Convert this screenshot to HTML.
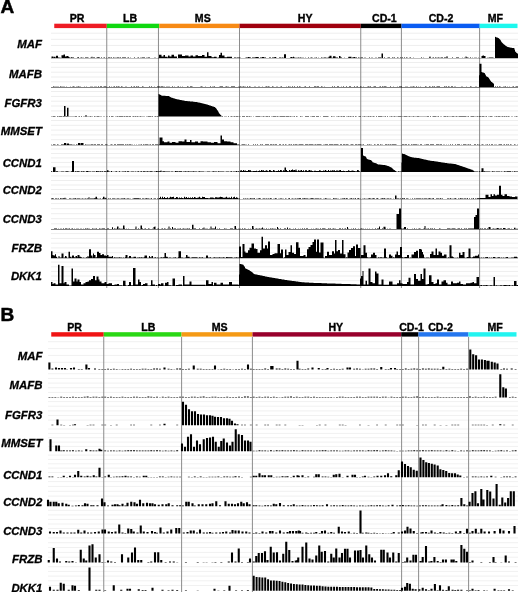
<!DOCTYPE html>
<html><head><meta charset="utf-8"><title>Figure</title>
<style>
html,body{margin:0;padding:0;background:#fff;}
body{width:520px;height:592px;overflow:hidden;}
svg{display:block;}
.wrap{width:520px;height:592px;}
.pl{font-family:"Liberation Sans",Arial,sans-serif;font-weight:bold;font-size:19px;stroke:#000;stroke-width:0.5px;}
.hd{font-family:"Liberation Sans",Arial,sans-serif;font-weight:bold;font-size:10.6px;stroke:#000;stroke-width:0.35px;}
.rl{font-family:"Liberation Sans",Arial,sans-serif;font-weight:bold;font-style:italic;font-size:11.4px;stroke:#000;stroke-width:0.3px;}
</style></head><body><div class="wrap">
<svg width="520" height="592" viewBox="0 0 520 592">
<text x="0.5" y="13.2" class="pl">A</text>
<text x="77.0" y="22.1" class="hd" text-anchor="middle">PR</text>
<text x="130.0" y="22.1" class="hd" text-anchor="middle">LB</text>
<text x="202.8" y="22.1" class="hd" text-anchor="middle">MS</text>
<text x="305.1" y="22.1" class="hd" text-anchor="middle">HY</text>
<text x="384.4" y="22.1" class="hd" text-anchor="middle">CD-1</text>
<text x="441.1" y="22.1" class="hd" text-anchor="middle">CD-2</text>
<text x="495.4" y="22.1" class="hd" text-anchor="middle">MF</text>
<rect x="51" y="32.7" width="467" height="1" fill="#eeeeee"/>
<rect x="51" y="38.8" width="467" height="1" fill="#eeeeee"/>
<rect x="51" y="44.9" width="467" height="1" fill="#eeeeee"/>
<rect x="51" y="51.0" width="467" height="1" fill="#eeeeee"/>
<rect x="51" y="62.0" width="467" height="1" fill="#eeeeee"/>
<rect x="51" y="66.8" width="467" height="1" fill="#eeeeee"/>
<rect x="51" y="71.7" width="467" height="1" fill="#eeeeee"/>
<rect x="51" y="76.5" width="467" height="1" fill="#eeeeee"/>
<rect x="51" y="81.3" width="467" height="1" fill="#eeeeee"/>
<rect x="51" y="91.0" width="467" height="1" fill="#eeeeee"/>
<rect x="51" y="95.9" width="467" height="1" fill="#eeeeee"/>
<rect x="51" y="100.7" width="467" height="1" fill="#eeeeee"/>
<rect x="51" y="105.5" width="467" height="1" fill="#eeeeee"/>
<rect x="51" y="110.4" width="467" height="1" fill="#eeeeee"/>
<rect x="51" y="120.0" width="467" height="1" fill="#eeeeee"/>
<rect x="51" y="124.8" width="467" height="1" fill="#eeeeee"/>
<rect x="51" y="129.6" width="467" height="1" fill="#eeeeee"/>
<rect x="51" y="134.4" width="467" height="1" fill="#eeeeee"/>
<rect x="51" y="139.2" width="467" height="1" fill="#eeeeee"/>
<rect x="51" y="148.5" width="467" height="1" fill="#eeeeee"/>
<rect x="51" y="153.0" width="467" height="1" fill="#eeeeee"/>
<rect x="51" y="157.4" width="467" height="1" fill="#eeeeee"/>
<rect x="51" y="161.9" width="467" height="1" fill="#eeeeee"/>
<rect x="51" y="166.4" width="467" height="1" fill="#eeeeee"/>
<rect x="51" y="175.4" width="467" height="1" fill="#eeeeee"/>
<rect x="51" y="180.0" width="467" height="1" fill="#eeeeee"/>
<rect x="51" y="184.5" width="467" height="1" fill="#eeeeee"/>
<rect x="51" y="189.0" width="467" height="1" fill="#eeeeee"/>
<rect x="51" y="193.6" width="467" height="1" fill="#eeeeee"/>
<rect x="51" y="203.1" width="467" height="1" fill="#eeeeee"/>
<rect x="51" y="208.2" width="467" height="1" fill="#eeeeee"/>
<rect x="51" y="213.2" width="467" height="1" fill="#eeeeee"/>
<rect x="51" y="218.2" width="467" height="1" fill="#eeeeee"/>
<rect x="51" y="223.3" width="467" height="1" fill="#eeeeee"/>
<rect x="51" y="233.1" width="467" height="1" fill="#eeeeee"/>
<rect x="51" y="237.9" width="467" height="1" fill="#eeeeee"/>
<rect x="51" y="242.7" width="467" height="1" fill="#eeeeee"/>
<rect x="51" y="247.4" width="467" height="1" fill="#eeeeee"/>
<rect x="51" y="252.2" width="467" height="1" fill="#eeeeee"/>
<rect x="51" y="261.6" width="467" height="1" fill="#eeeeee"/>
<rect x="51" y="266.3" width="467" height="1" fill="#eeeeee"/>
<rect x="51" y="270.9" width="467" height="1" fill="#eeeeee"/>
<rect x="51" y="275.5" width="467" height="1" fill="#eeeeee"/>
<rect x="51" y="280.2" width="467" height="1" fill="#eeeeee"/>
<rect x="106.25" y="28.0" width="1" height="260.0" fill="#8c8c8c"/>
<rect x="157.95" y="28.0" width="1" height="260.0" fill="#8c8c8c"/>
<rect x="239.00" y="28.0" width="1" height="260.0" fill="#8c8c8c"/>
<rect x="360.25" y="28.0" width="1" height="260.0" fill="#8c8c8c"/>
<rect x="400.90" y="28.0" width="1" height="260.0" fill="#8c8c8c"/>
<rect x="479.10" y="28.0" width="1" height="260.0" fill="#8c8c8c"/>
<rect x="54.25" y="23.7" width="52.55" height="4.4" fill="#ee1c24"/>
<rect x="106.80" y="23.7" width="52.50" height="4.4" fill="#10d810"/>
<rect x="159.30" y="23.7" width="80.20" height="4.4" fill="#f78a14"/>
<rect x="239.50" y="23.7" width="121.30" height="4.4" fill="#a0000e"/>
<rect x="360.80" y="23.7" width="40.70" height="4.4" fill="#000000"/>
<rect x="401.50" y="23.7" width="78.20" height="4.4" fill="#0a5cf2"/>
<rect x="479.70" y="23.7" width="37.80" height="4.4" fill="#1cf8ee"/>
<text x="41.9" y="48.2" class="rl" text-anchor="end">MAF</text>
<text x="41.9" y="77.6" class="rl" text-anchor="end">MAFB</text>
<text x="41.9" y="107.0" class="rl" text-anchor="end">FGFR3</text>
<text x="41.9" y="135.1" class="rl" text-anchor="end">MMSET</text>
<text x="41.9" y="167.4" class="rl" text-anchor="end">CCND1</text>
<text x="41.9" y="194.2" class="rl" text-anchor="end">CCND2</text>
<text x="41.9" y="222.5" class="rl" text-anchor="end">CCND3</text>
<text x="41.9" y="251.6" class="rl" text-anchor="end">FRZB</text>
<text x="41.9" y="279.9" class="rl" text-anchor="end">DKK1</text>
<path d="M51,58.3H51V57.9H51.5V56.5H53.5V57.6H54V56.8H55.5V57.7H56V55.8H58V57.7H58.5V57.3H59.5V58.1H60V57.8H61V58.0H61.5V55.2H63.5V54.6H65V56.5H66.5V56.1H68.5V57.1H69.5V57.7H70V57.8H71V57.4H71.5V57.1H72.5V58.1H73V57.5H74V57.9H75V58.0H77V57.9H77.5V57.1H78.5V57.5H79V58.0H80V57.7H81V57.6H82V57.8H83V57.7H84V58.0H85.5V57.1H86.5V57.9H87V57.6H88V57.8H89V57.9H90V57.7H91V57.8H91.5V56.8H92.5V57.9H93V57.5H94V57.6H95V57.9H96V57.7H97.5V57.1H98.5V57.5H99V57.6H100V57.9H101V57.4H102V58.0H103V57.8H104V57.6H105V58.0H106V57.8H107V58.1H108V57.6H110V57.7H111V57.5H112V57.9H113V57.6H114V57.7H116V57.8H117V57.5H118V57.4H119V57.8H120V57.6H121V58.0H122V57.6H124V57.4H125V57.5H126V57.9H127V57.8H128V57.6H129V58.1H130V57.8H131V58.0H134V57.6H135V58.0H136V57.9H137V57.8H138V57.5H139V58.0H140V57.8H141V57.7H142V57.5H145V57.9H146V57.8H148V57.5H149V57.4H150V58.0H152V57.9H154V57.8H155V57.7H156V57.9H157V58.1H158V57.8H159V54.7H161.5V56.4H163.5V55.1H165V56.7H167.5V57.5H168V55.6H169.5V56.4H171.5V54.7H174V56.4H177V57.9H178V54.4H182V56.0H185V55.6H188.5V56.4H190.5V55.6H193V56.4H195.5V55.2H198V56.0H202V55.1H204.5V56.7H207V52.3H208.5V56.0H211.5V57.2H214V56.7H216.5V57.6H217V57.7H218V57.6H219V55.1H220.5V52.8H222V55.6H224.5V57.2H227V56.7H232V57.9H234V57.6H235V57.4H236V57.8H237V57.4H240V57.8H241V57.9H243V58.0H244V57.9H245V57.7H246V57.5H248V57.0H249.5V57.6H250V57.5H251V58.0H252V57.6H253V57.5H254V57.6H255.5V56.9H258.5V57.5H259V57.9H260V57.5H261V57.4H262V57.0H264V57.4H265V57.6H266V58.0H269V57.5H271V58.0H272V57.5H273V57.4H274V57.6H274.5V57.1H276V57.7H277V58.0H278V58.1H279V57.4H280V57.6H281V57.7H282V57.4H283V57.8H284V54.3H286V57.9H290V57.7H290.5V57.0H292.5V57.8H293V56.7H294V57.5H295V57.8H297V57.7H298V57.5H299V57.8H300V57.5H301V57.7H304V58.1H305V57.8H306V58.0H307V58.1H308V57.5H309V58.0H310V57.8H311V57.6H312V57.7H313V57.9H314V57.7H316V57.5H317V58.0H318V57.7H319V57.9H321V57.6H322V57.7H324V57.6H325V57.5H326V57.8H327V57.7H328.5V56.8H329.5V55.8H331.5V57.8H332V57.7H333V56.3H335.5V57.6H336V57.5H337V57.4H338V57.9H339V56.1H340.5V57.4H341V57.5H342V58.0H344V57.8H345V58.0H346V57.9H347V58.0H348V57.6H348.5V56.8H351.5V58.0H352V57.6H353.5V57.1H355V57.5H356V57.4H357V57.9H358V57.4H359V57.8H361V57.4H362V57.5H363V58.0H364V57.8H365V57.7H366V57.9H367V58.0H368V57.9H369V57.6H370V58.1H371V57.7H372V57.8H373V58.1H374V57.9H375V57.7H377V58.0H378V57.4H379V57.5H380V57.4H381V58.0H381.5V53.5H383V58.1H384V57.6H385V57.9H386V58.0H387V57.8H388V57.5H390V57.9H391V58.0H392V57.5H393V57.7H394V57.6H395V58.0H396V58.1H397V57.6H398V57.8H399V58.0H400V57.4H401V57.7H402V57.5H403V58.0H404V57.5H405V58.0H406V57.5H407V57.8H408V57.9H409V57.7H410V57.5H411V57.9H412V58.0H413V57.7H414V57.9H415V58.0H417V58.1H418V58.0H419V57.9H421V57.6H422V57.9H423V57.7H424V58.0H425V57.9H426V58.1H427V57.9H428V58.1H429V57.6H429.5V56.5H430.5V57.7H431V58.0H432V57.8H433V57.4H434V58.0H435V57.5H436V57.8H437V57.7H438V57.5H439V57.8H440V57.7H441V57.6H442V57.4H443V57.9H444V57.5H445V57.6H446V57.7H446.5V56.3H447.5V57.8H448V57.9H449V58.1H450V58.0H452V57.6H453V57.9H454V58.0H456V57.5H458V57.6H459V57.9H462V57.8H463V58.0H464V57.8H465V57.9H465.5V56.5H466.5V57.4H468V57.7H469V57.9H470V57.4H471V57.9H472V57.8H473V58.1H474V57.8H476V57.7H477V58.0H478V57.7H479V58.1H480V57.9H481V58.0H481.5V56.1H482.5V55.4H484V56.1H485.5V57.9H487V57.7H489V57.6H492V57.5H493V57.8H494V57.9H495V36.8H495.5V37.0H496V37.2H496.5V37.4H497V37.5H497.5V37.7H498V37.9H498.5V38.2H499V38.7H499.5V39.3H500V39.8H500.5V40.6H501V41.4H501.5V42.2H502V42.7H502.5V43.3H503V43.8H503.5V44.3H504V44.6H504.5V45.0H505V45.4H505.5V45.8H506V46.1H506.5V46.4H507V46.7H507.5V47.0H508V47.1H508.5V47.2H509V47.3H509.5V47.4H510V47.5H510.5V47.7H511.5V47.8H512V47.9H512.5V48.0H513.5V48.1H514V48.2H514.5V49.8H515V51.6H515.5V52.1H516V52.5H516.5V52.9H517V53.3H517.5V53.8H518V58.3 Z" fill="#000"/>
<path d="M51,87.4H51V86.9H52V87.1H53V86.6H54V86.8H55V86.7H58V86.8H59V87.1H60V86.6H61V86.7H62V86.8H64V86.7H65V87.1H66V86.7H67V87.0H68V87.1H69V87.0H70V86.7H71V87.0H72V86.7H73V86.5H74V86.8H75V86.9H76V86.8H77V86.7H78V86.6H79V86.7H81V87.1H82V87.0H84V86.7H85V86.9H86V86.8H87V87.1H89V87.0H90V86.7H93V86.9H94V86.8H97V87.0H98V86.6H99V87.0H100V86.5H102V87.1H103V86.8H104V86.6H105V86.5H106V86.8H107V87.0H109V86.5H110V87.0H111V86.8H112V87.0H113V86.8H114V86.5H115V87.0H116V86.6H117V86.8H118V86.6H119V86.7H120V87.0H121V86.6H122V86.8H123V87.1H125V86.8H127V86.9H128V87.0H129V86.9H131V86.6H132V87.1H133V86.7H134V86.6H135V87.0H136V86.5H137V86.7H138V86.6H139V86.9H142V86.5H143V86.8H144V86.9H147V87.1H149V86.6H150V86.9H151V86.5H152V87.0H154V86.8H155V87.0H156V86.9H157V86.5H158V86.6H160V86.7H161V86.6H162V86.5H163V86.8H164V86.7H165V87.1H166V86.7H167V86.8H168V86.7H170V86.9H171V87.1H172V86.5H173V87.0H174V86.8H175V86.9H177V86.7H178V86.5H179V87.0H180V86.7H181V86.9H182V86.8H183V86.9H184V87.0H187V86.6H188V86.8H189V87.0H190V86.6H191V86.5H192V86.8H193V87.0H195V87.1H196V86.9H197V87.1H198V87.0H200V86.8H201V86.6H202V86.7H203V86.9H205V86.8H206V86.9H208V87.1H209V86.9H210V86.5H211V87.0H212V86.8H213V86.7H214V86.6H215V87.0H218V86.9H219V86.8H220V86.5H221V86.6H223V87.1H225V86.7H226V86.6H227V86.8H229V87.1H230V86.9H231V86.5H232V86.6H234V86.5H235V87.0H236V87.1H237V87.0H238V86.8H239V86.7H240V86.5H241V86.7H243V86.6H244V86.8H246V87.1H247V86.6H248V87.0H249V86.5H250V86.7H251V86.9H252V87.0H254V86.7H256V87.1H258V86.8H260V86.9H261V87.0H262V86.7H263V87.1H264V86.9H265V86.8H266V86.5H267V86.7H268V86.6H269V86.8H270V87.0H272V86.5H273V86.7H274V86.9H275V87.1H276V86.8H277V86.7H278V86.9H279V87.0H280V86.7H281V86.5H282V87.0H283V87.1H284V86.9H286V86.7H287V87.0H288V86.6H289V86.7H290V86.8H291V87.0H292V86.5H293V86.9H294V86.6H295V87.0H297V86.6H298V86.9H299V86.5H300V86.8H301V87.0H303V86.9H304V86.7H305V86.5H306V87.0H307V86.9H308V87.0H309V86.5H310V87.0H311V87.1H313V86.9H314V86.6H316V86.7H317V86.5H319V86.9H320V87.0H321V86.5H322V86.7H323V87.1H324V86.7H325V86.9H328V87.0H329V87.1H330V86.9H332V86.5H333V87.0H334V86.5H335V87.0H336V86.9H337V86.6H339V86.9H340V87.1H341V86.8H342V86.9H343V86.5H344V87.0H345V86.9H346V86.6H347V87.1H348V86.9H349V86.6H351V87.1H354V86.5H355V87.0H356V86.7H357V86.6H358V86.9H359V87.0H360V86.5H361V86.7H362V87.0H363V86.7H364V86.9H366V87.1H367V86.7H368V86.6H369V86.7H370V86.5H371V87.1H372V87.0H373V86.8H374V86.5H376V86.9H377V87.0H378V86.9H379V86.8H380V86.5H381V87.0H382V86.6H383V86.7H384V86.6H386V86.7H387V86.9H390V86.6H391V87.1H392V87.0H393V86.7H394V87.0H395V87.1H397V86.8H398V86.9H399V86.5H400V86.6H401V86.5H402V87.0H403V87.1H405V86.8H406V86.7H407V86.8H408V87.0H409V86.9H410V86.7H413V86.6H414V86.7H415V87.0H416V86.6H417V86.9H418V86.8H419V86.9H420V86.7H421V87.0H425V86.6H426V86.8H427V86.9H429V86.5H430V86.8H431V87.0H432V86.6H433V86.7H434V86.5H435V87.1H436V86.8H437V86.6H440V87.1H441V86.9H442V87.0H444V86.5H445V86.8H446V86.5H447V86.9H448V86.6H449V86.8H450V87.0H451V86.6H452V86.5H453V87.1H454V86.8H455V86.7H456V87.0H457V86.9H458V87.0H461V86.7H463V87.0H464V87.1H465V86.9H466V86.7H467V87.0H468V86.9H469V87.0H470V86.6H471V86.8H472V87.1H474V86.9H475V86.8H476V86.7H477V87.1H478V87.0H479V75.3H479.5V63.7H481.5V72.1H482V72.2H482.5V72.4H483V72.6H483.5V72.8H484V72.9H484.5V73.2H485V74.2H485.5V75.3H486V76.2H486.5V76.5H487V76.7H487.5V76.9H488V77.2H488.5V77.9H489V78.7H489.5V79.6H490V80.3H490.5V81.0H491V81.7H491.5V82.1H492V82.5H492.5V82.8H493V83.2H493.5V83.7H494V87.1H495V86.6H496V86.9H497V86.6H498V86.9H499V86.6H500V86.8H501V87.0H502V87.1H503V86.8H504V86.7H505V86.6H506V87.1H507V86.7H508V86.9H509V86.8H510V87.0H511V86.9H512V86.8H513V86.5H514V87.1H515V86.8H516V86.6H517V86.5H518V87.4 Z" fill="#000"/>
<path d="M51,116.4H51V116.3H53V116.0H55V116.2H56V116.4H57V116.0H58V116.2H59V116.0H60V116.1H62V116.3H63V116.1H64V105.9H65.5V116.2H66V116.1H67V107.8H68.5V116.3H70V116.2H73V116.3H75V116.1H76V116.0H77V116.4H78V116.2H79V116.1H80V116.4H81V116.1H82V116.4H83V116.2H85V115.4H87V116.2H90V116.1H91V116.2H93V116.4H94V116.1H95V116.2H96V116.3H97V116.1H99V116.2H100V116.3H101V116.2H102V116.4H103V116.3H104V116.2H105V116.4H106V116.2H108V116.4H109V116.1H110V116.4H111V116.1H113V116.2H114V116.4H115V116.2H117V116.0H118V116.3H119V116.0H121V116.1H123V116.3H124V116.0H125V116.2H126V116.0H128V116.3H129V116.1H130V116.0H131V116.4H132V116.3H133V116.1H134V116.3H135V116.0H136V116.3H137V116.1H138V116.3H139V116.2H140V116.0H141V116.3H143V116.2H144V116.3H145V116.4H146V116.3H148V116.0H149V116.1H150V116.0H151V116.3H152V116.1H153V116.4H154V116.2H155V116.1H156V116.3H157V116.0H158V116.2H158.5V93.9H159V94.2H159.5V94.5H160V94.8H160.5V95.1H161V95.4H161.5V95.6H162V95.7H163V95.8H165.5V95.9H167.5V96.0H169V96.3H169.5V96.7H170V97.1H170.5V97.3H171V97.5H171.5V97.7H172V97.8H172.5V98.0H173V98.2H173.5V98.3H174V98.5H174.5V98.6H175V98.8H175.5V98.9H176V99.0H176.5V99.2H177V99.3H177.5V99.4H178V99.5H178.5V99.6H179V99.7H179.5V99.8H180V99.9H180.5V100.0H181V100.1H181.5V100.2H182V100.3H182.5V100.4H183V100.5H183.5V100.6H184V100.7H184.5V100.8H185V100.9H185.5V101.0H186.5V101.1H187.5V101.2H189V101.3H190V101.4H191.5V101.5H192.5V101.6H193V101.7H194V101.8H194.5V101.9H195.5V102.0H196V102.1H197V102.2H197.5V102.3H198V102.4H198.5V102.5H199V102.6H199.5V102.7H200V102.8H200.5V102.9H201V103.1H201.5V103.2H202V103.3H202.5V103.4H203V103.5H203.5V103.7H204V103.8H204.5V103.9H205V104.1H205.5V104.2H206V104.3H206.5V104.5H207V104.6H207.5V104.8H208V104.9H208.5V105.1H209V105.3H209.5V105.5H210V105.6H210.5V105.8H211V106.0H211.5V106.1H212V106.3H212.5V106.5H213V106.6H213.5V106.8H214V107.0H214.5V107.1H215V107.5H215.5V108.0H216V108.5H216.5V109.2H217V109.9H217.5V110.7H218V111.5H218.5V112.4H219V113.2H219.5V113.9H220V114.4H220.5V114.9H221V115.4H221.5V116.3H222V116.0H223V116.4H224V116.2H226V116.3H227V116.4H228V116.1H229V116.4H230V116.2H231V116.0H232V116.3H234V116.1H235V116.2H236V116.1H238V116.3H241V116.4H242V116.0H243V116.1H245V116.4H246V116.1H248V116.2H249V116.1H250V116.2H251V116.3H252V116.4H253V116.3H254V116.4H255V116.3H256V116.1H260V116.3H261V116.2H263V116.1H264V116.2H265V116.3H266V116.1H267V116.0H268V116.3H269V116.0H270V116.4H271V116.3H273V116.1H274V116.0H275V116.1H276V116.3H277V116.0H278V116.3H280V116.0H281V116.1H284V116.0H285V116.2H286V116.1H288V116.0H289V116.2H290V116.1H291V116.2H292V116.3H294V116.1H295V116.4H296V116.0H297V116.3H298V116.4H300V116.0H301V116.3H303V116.4H305V116.1H309V116.4H310V116.2H311V116.3H312V116.1H314V116.0H315V116.4H316V116.0H319V116.4H320V116.3H321V116.4H323V116.1H328V116.3H329V116.4H331V116.1H332V116.3H334V116.2H335V116.4H336V116.3H338V116.1H339V116.2H340V116.3H341V116.0H342V116.2H343V116.0H344V116.1H345V116.4H346V116.2H348V116.1H349V116.3H350V116.1H351V116.2H352V116.3H353V116.0H354V116.4H355V116.1H356V116.3H357V116.4H358V116.3H359V116.1H360V116.0H361V116.4H362V116.2H364V116.1H365V116.3H366V116.2H367V116.3H368V116.1H369V116.3H370V116.0H371V116.3H373V116.1H374V116.2H375V116.4H376V116.1H377V116.4H378V116.1H382V116.3H383V116.2H385V116.0H386V116.4H387V116.0H388V116.4H389V116.3H391V116.0H392V116.2H394V116.0H395V116.3H396V116.2H398V116.1H401V116.3H404V116.1H407V116.3H408V116.2H409V116.1H410V116.2H411V116.3H412V116.2H413V116.0H414V116.3H417V116.1H419V116.3H423V116.2H424V116.3H427V116.0H428V116.1H429V116.4H430V116.0H431V116.4H432V116.2H433V116.0H434V116.1H436V116.2H437V116.3H438V116.1H439V116.4H440V116.3H441V116.2H442V116.4H443V116.2H444V116.1H446V116.2H447V116.1H448V116.2H449V116.3H450V116.2H452V116.1H453V116.0H454V116.2H456V116.1H457V116.2H458V116.3H459V116.1H460V116.0H461V116.1H463V116.0H464V116.1H466V116.2H467V116.3H468V116.1H469V116.4H470V116.2H471V116.1H474V116.3H475V116.2H477V116.1H478V116.2H479V116.1H480V116.0H481V116.3H482V116.1H484V116.2H486V116.0H487V116.4H488V116.2H489V116.3H490V116.1H491V116.0H492V116.2H493V116.4H494V116.2H496V116.1H497V116.2H498V116.1H500V116.2H502V116.0H503V116.3H504V116.1H505V116.2H506V116.1H507V116.3H508V116.0H509V116.3H510V116.4H511V116.3H512V116.2H513V116.4H514V116.2H516V116.1H517V116.3H518V116.4 Z" fill="#000"/>
<path d="M51,145.2H51V144.8H52V144.9H53V144.5H54V144.4H55V144.7H56V144.9H57V144.5H58V144.7H59V144.9H61V144.5H63V144.6H64V143.1H66V144.9H66.5V143.4H69V144.6H70V144.5H72V144.7H73V144.8H74V144.7H75V144.9H76V144.5H77V144.8H78V143.1H80.5V144.8H81V143.1H83.5V144.9H84V145.0H85V144.5H86V144.8H89V144.7H91V144.6H93V144.8H94V144.4H95V144.5H96V145.0H97V144.5H98V144.4H99V144.5H100V144.9H101V144.5H102V144.6H103V145.0H105V144.4H106V144.6H107V144.8H108V144.9H110V144.8H111V144.5H112V144.8H113V144.9H114V144.4H115V144.5H116V144.9H117V144.4H118V144.6H119V144.5H120V144.6H121V144.4H122V144.5H124V144.9H125V144.6H126V144.7H127V144.5H128V144.7H129V144.4H130V144.6H131V144.8H133V144.9H134V144.7H135V145.0H136V144.7H137V144.9H138V144.7H141V144.5H142V145.0H143V144.5H144V144.7H145V144.6H147V144.5H148V144.8H149V144.7H150V144.4H151V144.9H152V144.6H154V145.0H155V144.6H157V144.4H158V144.8H159V144.4H159.5V137.4H162.5V141.2H164V142.3H167.5V141.6H169.5V142.8H172V142.0H175.5V142.8H178.5V141.2H182V141.6H184.5V139.5H186.5V142.0H190V140.0H191.5V142.3H195V141.6H198V142.8H200.5V141.2H203V141.6H207.5V142.3H211V142.8H214V142.0H217.5V143.3H220.5V135.5H222V139.5H224V141.2H227V141.6H230.5V142.3H233.5V143.3H237V144.4H239V144.7H240V145.0H241V144.8H242V144.6H243V144.4H245V144.7H247V144.9H248V144.6H249V144.9H251V145.0H253V144.6H254V144.9H255V144.4H256V144.9H257V144.5H258V144.9H259V145.0H260V144.5H261V144.8H262V144.5H263V144.9H264V145.0H265V144.5H266V144.6H267V144.5H269V144.9H270V144.6H272V144.7H273V144.4H274V144.8H275V144.4H276V144.5H277V145.0H279V144.6H280V144.5H281V144.9H282V144.8H283V144.5H284V144.9H285V144.5H286V144.7H287V145.0H288V144.8H289V144.6H290V144.7H291V144.6H292V144.9H293V144.5H294V144.8H295V144.6H297V144.7H298V144.8H299V144.5H300V144.4H301V144.5H302V144.6H303V144.8H304V145.0H305V144.4H306V144.6H307V144.5H308V144.8H309V144.6H310V144.4H311V144.5H312V144.6H313V144.8H314V144.7H315V144.4H316V144.8H317V144.6H319V144.4H320V144.5H321V144.8H322V145.0H323V144.8H324V144.7H325V144.6H326V144.5H327V144.4H328V145.0H329V144.5H332V144.6H333V144.8H334V144.5H336V144.6H337V144.4H338V144.8H339V144.9H340V144.6H341V144.5H342V144.9H343V144.5H344V144.4H345V144.8H346V144.6H348V144.7H349V144.9H350V144.8H351V144.5H353V144.7H354V144.9H355V144.5H357V144.8H358V144.6H359V144.4H361V144.7H363V144.6H364V144.9H367V144.6H368V144.8H369V144.6H370V144.7H372V144.9H373V145.0H374V144.4H375V144.8H376V144.9H377V144.6H378V144.5H379V144.9H380V144.6H381V144.8H382V144.7H383V145.0H385V144.4H386V144.5H387V144.7H388V144.6H389V144.8H390V144.5H391V144.7H392V144.4H393V144.5H395V144.4H396V144.8H397V145.0H398V144.9H401V145.0H402V144.6H403V144.5H404V144.7H405V144.4H407V145.0H408V144.6H409V144.7H410V144.9H411V144.4H412V144.8H413V144.6H415V144.4H416V144.6H417V144.7H419V144.9H420V144.4H422V144.9H423V145.0H424V144.8H426V144.4H428V144.5H429V145.0H430V144.5H431V144.6H433V144.4H434V145.0H435V144.9H436V144.5H437V144.4H438V144.6H439V144.8H440V144.6H441V144.5H442V144.9H443V144.8H445V144.9H446V144.7H447V144.9H448V144.8H449V144.9H450V144.6H451V145.0H452V144.5H453V144.9H454V145.0H455V144.4H456V144.9H457V144.4H458V144.5H459V144.4H460V144.9H461V144.7H462V144.9H463V144.4H464V144.5H465V144.6H466V144.7H467V144.8H468V144.5H469V144.7H470V144.6H471V144.9H473V145.0H474V144.6H476V144.9H477V144.5H478V144.8H479V144.7H480V144.9H481V144.8H482V144.5H483V144.8H484V144.9H485V144.7H486V144.8H487V144.4H488V144.9H489V144.4H490V145.0H491V144.4H492V144.6H493V144.9H494V144.7H495V144.8H497V144.9H498V144.8H499V144.4H502V144.9H503V144.8H504V144.4H505V145.0H506V144.5H507V144.8H508V144.4H509V145.0H510V144.5H511V144.8H512V144.9H513V145.0H514V144.5H515V144.7H516V144.9H517V144.7H518V145.2 Z" fill="#000"/>
<path d="M51,172.1H51V171.2H52V171.7H53V167.2H55.5V171.7H56V171.3H58V171.7H59V171.8H61V171.4H62V171.5H63V171.6H64V171.7H65V171.4H66V171.3H68V171.4H69V171.7H70V171.8H71V171.3H72V161.0H74V171.8H75V171.3H76V171.6H77V171.2H79V171.5H80V171.8H81V171.2H82V171.5H83V171.2H84V171.6H85V171.7H86V171.2H86.5V171.1H88.5V171.7H89V171.6H90V171.4H91V171.8H92V171.5H95V171.7H96V171.1H97V171.3H98V171.2H99V171.6H100V171.3H101V171.6H102V171.3H103V171.8H104V171.2H106V171.5H107V170.3H108.5V171.5H109V171.4H110V171.8H111V171.1H112V171.7H115V171.6H116V171.3H117V171.8H119V171.3H120V171.7H121V171.8H122V171.4H124V171.5H125V171.3H126V171.7H127V171.2H128V171.3H129V171.8H130V171.7H131V171.5H133V171.6H134V171.7H135V171.5H136V171.7H137V171.4H138V171.2H139V171.7H140V171.4H141V171.3H142V171.7H143V171.2H145V171.5H147V171.2H148V171.5H150V171.2H151V171.3H152V171.6H153V171.7H154V171.6H155V171.5H156V171.1H157V171.3H158V171.2H159V171.3H160V171.2H160.5V170.6H161.5V171.8H162V171.5H163V171.2H165V171.6H166V171.5H167V171.4H168V171.6H169V171.5H170V171.8H171V171.5H173V171.8H174V171.7H175V171.1H176V171.3H177V171.2H178V171.4H179V171.3H180V171.2H182V171.8H183V171.4H184V171.6H185V171.3H186V171.6H187V171.4H188V171.2H189V171.4H190V171.6H191V171.5H193V171.2H194V171.6H196V171.4H197V171.7H198V171.4H199V171.2H200V171.5H201V171.6H202V171.5H203V171.4H204V171.7H207V171.6H208V171.5H209V171.6H210V171.7H211V171.8H212V171.4H213V171.2H214V171.4H217V171.7H218V171.3H219V171.5H220V171.4H222V171.5H223V171.6H224V171.7H226V171.5H227V171.6H228V171.4H229V171.8H230V171.6H231V171.2H232V171.7H233V171.4H234V171.5H235V171.6H236V171.1H237V171.6H238V171.3H239V171.7H240V170.4H241V170.3H242V171.0H243V170.1H244V170.8H245V170.4H246V171.0H247V171.1H248V170.0H249V170.3H251V171.2H253V171.1H254V171.0H255V170.9H256V170.8H257V171.2H258V170.9H259V170.4H260V171.0H261V170.1H262V170.5H263V170.3H264V170.9H265V170.7H266V170.3H267V170.8H268V171.3H269V170.1H270V170.2H271V170.9H272V171.2H273V170.1H274V170.4H275V171.2H276V171.0H277V171.1H278V170.2H279V171.0H280V170.0H281V170.3H282V171.2H283V170.3H284V170.7H284.5V167.6H286V170.1H287V170.9H288V171.2H289V170.0H290V170.7H291V170.0H292V169.6H293V170.3H294V170.1H295V170.4H295.5V169.6H296.5V170.7H297V171.2H298V170.3H299V170.7H300V170.6H301V170.0H302V171.1H303V170.2H304V171.2H305V170.3H306V170.2H307V170.9H308V170.5H309V169.9H310V170.4H311V170.5H312V171.0H313V171.2H314V170.8H315V170.7H316V171.0H317V170.9H318V171.1H319V170.3H320V170.4H321V171.0H323V170.6H324V170.7H325V170.0H326V170.8H327V170.9H328V170.1H329V171.1H330V170.5H331V170.8H332V170.2H333V170.5H334V170.2H335V171.1H336V170.4H337V170.5H338V170.7H339V170.2H340V170.1H341V171.1H342V170.9H343V170.8H344V171.0H345V171.2H346V170.9H347V171.0H348V170.3H349V170.7H350V171.1H351V170.8H352V170.6H353V170.8H354V171.1H355V171.2H356V171.3H357V169.9H358V170.2H359V171.2H360V171.8H361V148.0H363V155.5H363.5V155.7H364V155.9H364.5V156.2H365V156.4H365.5V156.6H366V157.5H366.5V158.4H367V159.1H367.5V159.3H368V159.4H368.5V159.6H369V159.7H369.5V159.8H370V160.0H370.5V160.1H371V160.3H371.5V160.9H372V161.6H372.5V162.2H373V162.4H373.5V162.6H374V162.7H374.5V162.9H375V163.1H375.5V163.2H376V163.4H376.5V163.6H377V163.9H377.5V164.2H378V164.4H378.5V164.5H379.5V164.6H380.5V164.7H381.5V164.8H382.5V164.9H383V165.0H384V165.1H385V165.2H385.5V165.3H386V165.4H386.5V165.6H387V165.7H387.5V165.9H388V166.0H388.5V166.2H389V166.4H389.5V166.7H390V167.0H390.5V167.2H391V167.5H391.5V167.8H392V168.3H392.5V168.8H393V169.3H393.5V169.7H394V170.0H394.5V170.3H395V170.7H395.5V171.0H396V171.6H397V171.8H398V171.2H399V171.4H400V171.6H401V171.5H401.5V162.4H402V153.6H402.5V153.7H403V153.9H403.5V154.0H404V154.1H404.5V154.3H405V154.5H405.5V154.8H406V155.0H406.5V155.3H407V155.5H407.5V155.8H408V156.0H408.5V156.2H409V156.4H409.5V156.6H410V156.7H410.5V156.9H411V157.1H411.5V157.3H412.5V157.4H413V157.5H413.5V157.6H414V157.7H415V157.8H416.5V157.9H418V158.0H418.5V158.1H419V158.2H419.5V158.3H420V158.4H420.5V158.6H421V158.7H421.5V158.8H422V158.9H422.5V159.0H423V159.2H423.5V159.3H424V159.4H424.5V159.5H425V159.6H425.5V159.7H426V159.8H426.5V159.9H427V160.1H427.5V160.2H428V160.3H428.5V160.4H429V160.5H429.5V160.6H430V160.7H430.5V160.8H431.5V160.9H432V161.0H433V161.1H434V161.2H434.5V161.3H435.5V161.4H436V161.5H437V161.6H437.5V161.7H438V161.8H438.5V161.9H439V162.0H440V162.1H440.5V162.2H441V162.3H441.5V162.4H442.5V162.5H443V162.6H443.5V162.7H444.5V162.8H445V162.9H445.5V163.0H446.5V163.1H447V163.2H448V163.3H448.5V163.4H449.5V163.5H450.5V163.6H451.5V163.7H452.5V163.8H453.5V163.9H454.5V164.0H455V164.1H455.5V164.3H456V164.4H456.5V164.6H457V164.8H457.5V164.9H458V165.1H458.5V165.2H459V165.4H459.5V165.6H460V165.7H460.5V165.9H461V166.1H461.5V166.2H462V166.4H462.5V166.6H463V166.7H463.5V166.9H464V167.1H464.5V167.3H465V167.4H465.5V167.6H466V167.8H466.5V168.0H467V168.2H467.5V168.3H468V168.5H468.5V168.7H469V168.8H469.5V169.0H470V169.2H470.5V169.3H471V169.5H471.5V169.7H472V169.8H472.5V170.2H473V170.5H473.5V170.8H474V171.2H474.5V171.4H475V171.6H477V171.4H478V171.7H479V171.2H480V171.7H481V171.5H481.5V168.3H483.5V171.6H484V171.3H485V171.6H486V171.4H488V171.6H489V171.5H490V171.8H491V171.7H492V171.2H493V171.6H494V171.4H495V171.7H496V171.4H497V171.6H498V171.5H499V171.6H500V171.8H501V171.6H502V171.7H504V171.3H505V171.6H506V171.5H507V171.2H508V171.3H509V171.2H511V171.7H512V171.6H513V171.8H514V171.3H515V171.4H516V171.6H517V171.5H518V172.1 Z" fill="#000"/>
<path d="M51,199.3H51V198.4H52V198.3H53V198.6H54V198.9H55V198.6H57V198.8H58V198.6H59V198.9H60V198.3H61V198.5H63V198.3H64V198.5H64.5V197.8H65.5V198.8H67V198.9H69V198.4H71V198.7H72V198.8H73V198.5H74V198.4H75V198.3H76V198.8H77V198.4H80V198.7H81V198.8H82V198.4H83V198.7H85V198.6H86V198.7H87V198.4H88V198.8H88.5V197.3H89.5V198.9H90V198.6H91V198.5H92V198.4H93V198.5H94V198.3H95.5V196.8H97V198.6H98V198.8H99V198.7H100V198.5H101V198.9H102V198.5H103V196.8H104.5V198.6H105V198.3H105.5V197.8H106.5V198.9H108V198.6H109V198.8H110V198.4H111V198.9H112V198.4H115V198.7H116V198.8H117V198.5H118V198.6H119V198.7H121V198.6H122V198.5H123V198.4H124V198.3H125V198.8H126V198.7H127V198.6H129V198.7H130V198.8H131V198.9H132V198.7H133V198.6H134V198.3H139V198.5H140V198.4H141V198.9H142V198.5H144V198.7H145V198.6H146V198.3H147V198.6H148V198.5H149V198.7H151V198.3H152V198.9H153V198.8H154V198.5H155V198.6H156V198.9H157V198.5H158V198.7H159V198.1H160V196.7H161V198.3H162V196.8H163V198.1H164V197.1H165V198.1H166V198.0H167V197.2H168V198.2H169V197.8H170V196.8H171V197.2H172V196.9H173V196.7H174V198.2H175V197.9H176V197.0H177V197.2H178V198.2H179V197.5H180V197.9H181V197.6H182V198.1H183V198.3H184V196.7H185V197.8H186V196.9H187V198.1H188V197.5H189V198.1H190V197.6H191V198.0H192V197.2H193V198.1H194V197.1H195V197.5H196V198.1H197V197.7H198V197.5H199V196.8H200V197.7H201V198.0H202V196.8H203V196.9H204V197.1H205V197.9H206V198.0H207V197.9H208V198.2H210V197.5H211V197.6H212V197.4H213V197.7H214V198.3H215V197.2H216V197.3H217V197.4H219V197.2H220V196.7H221V196.9H222V197.2H223V197.7H224V197.8H225V197.6H226V196.7H227V197.7H229V197.6H230V198.1H231V196.7H232V198.3H233V197.3H234V196.8H235V197.9H236V197.3H237V197.7H238V198.4H239V198.5H240V198.9H243V198.4H244V198.8H245V198.6H246V198.7H247V198.5H248V198.7H249V198.8H250V198.3H251V198.6H252V198.5H253V198.4H254V198.3H255V198.9H256V198.7H257V198.8H258V198.6H259V198.3H260V198.4H261V198.9H262V198.8H263V198.4H264V198.5H265V198.7H266V198.6H267V198.8H268V198.4H269V198.7H270V198.3H271V198.5H272V198.9H273V198.7H274V198.8H275V198.3H276V198.5H277V198.9H278V198.8H279V198.7H280V198.6H281V198.5H282V198.7H284V198.9H285V198.5H286V198.7H287V198.9H288V198.6H289V198.3H290V198.9H291V198.8H292V198.5H293V198.8H295V198.6H296V198.8H297V198.6H299V198.3H301V198.9H302V198.6H303V198.4H304V198.3H305V198.4H306V198.5H308V198.7H309V198.8H310V198.4H311V198.3H313V198.5H314V198.7H315V198.4H317V198.6H318V198.5H319V198.7H320V198.6H321V198.7H322V198.9H323V198.7H325V198.3H326V198.6H327V198.7H328V198.8H330V198.7H331V198.9H333V198.3H334V198.6H337V198.7H338V198.8H339V198.9H340V198.7H342V198.4H343V198.6H344V198.3H345V198.7H346V198.3H347V198.5H348V198.9H349V198.8H350V198.5H351V198.3H352V198.7H353V198.4H354V198.7H355V198.3H356V198.9H357V198.6H358V198.3H359V198.8H361V198.9H362V198.8H364V198.5H365V198.8H366V198.7H367V198.8H368V198.5H369V198.3H370V198.5H371V198.8H372V198.4H373V198.3H374V198.5H375V198.9H376V198.4H377V198.3H378V198.7H379V198.9H380V198.8H381V198.6H382V198.3H383V198.5H384V198.3H385V198.8H386V198.7H387V198.4H388V198.5H389V198.7H390V198.5H391V198.7H392V198.9H393V198.7H394V198.9H395V195.5H396.5V198.7H397V198.6H398V198.5H399V198.8H400V198.6H401V198.9H402V198.3H403V198.6H404V198.3H405V198.9H406V198.5H407V198.4H408V198.7H409V198.9H410V198.8H411V198.9H412V198.4H413V198.9H414V198.4H415V198.7H416V198.6H417V198.5H418V198.6H419V198.5H421V198.7H422V198.4H423V198.8H424V198.5H425V198.4H427V198.7H428V198.4H429V198.3H430V198.6H431V198.8H432V198.6H433V198.3H434V198.9H436V198.6H437V198.5H438V198.4H439V198.7H440V198.3H441V198.8H442V198.4H443V198.9H447V198.6H449V198.8H450V198.3H451V198.7H452V198.8H454V198.4H455V198.3H456V198.8H457V198.9H458V198.4H459V198.8H460V198.3H461V198.6H462V198.5H463V198.7H464V198.4H465V198.6H466V198.7H467V198.3H468V198.9H469V198.4H470V198.9H471V198.5H472V198.7H473V198.3H474V198.9H475V198.6H476V198.7H477V198.3H479V198.5H479.5V198.0H485.5V194.8H488.5V196.9H490.5V194.3H492V195.9H493.5V194.3H495V195.4H497V194.8H499V185.8H501V194.8H502.5V195.9H504.5V194.3H507V195.9H509.5V196.4H512V196.9H515V196.4H517.5V198.9H518V199.3 Z" fill="#000"/>
<path d="M51,229.5H51V229.0H53V229.1H54V228.6H56V228.5H57V229.1H58V228.7H59V228.9H60V228.7H61V228.8H62V228.9H63V228.5H64V229.1H65V228.6H67V228.8H68V228.7H69V228.5H70V229.0H71V228.7H72V228.6H73V228.9H74V228.7H75V228.9H76V228.8H77V228.7H79V228.9H80V228.7H81V228.8H82V229.0H83V228.7H84V229.0H85V228.5H86V228.8H87V228.6H88V228.8H90V229.0H91V229.1H92V228.5H93V228.8H96V228.6H97V229.0H99V228.6H100V228.8H101V228.7H102V228.6H103V228.5H105V229.1H106V228.9H107V228.6H109V229.1H110V229.0H112V227.3H113V228.9H114V228.6H115V228.8H117V226.5H118.5V228.9H119V228.5H120V228.7H121V228.8H123V225.5H124.5V228.6H125V229.0H126V228.7H127V228.9H128V228.8H129V229.0H130V228.9H133V229.1H134V229.0H135V228.8H135.5V226.5H136.5V229.1H137V229.0H138V228.6H139V229.0H140V228.9H140.5V225.5H142V228.6H143V229.1H144V228.7H145V228.5H146V229.0H147V228.9H148V228.6H149V228.7H150V228.9H151V229.1H152V228.8H153V228.9H153.5V227.0H154.5V226.5H155.5V228.9H157V228.7H158V228.6H159V228.9H161V228.7H162V228.5H163V229.0H164V228.5H165V228.7H166V228.9H167V228.7H168V228.9H168.5V226.5H169.5V229.1H170V228.6H171V228.9H172V227.0H173V228.8H174V228.5H175V228.6H176V229.1H177V228.7H178V228.8H180V228.6H181V228.9H182V228.8H183V228.5H184V228.8H187V228.6H188V228.7H189V228.6H190V228.9H191V229.1H192V224.7H193.5V228.8H194V228.6H196V229.1H197V229.0H198V229.1H199V228.6H200V229.1H202V228.6H203V228.8H203.5V227.5H204.5V229.1H205V228.7H207V228.8H208V229.1H209V228.7H210V228.9H210.5V226.5H211.5V228.7H212V228.5H213V228.6H214V228.5H215V226.5H216V228.9H217V228.8H218V229.1H219V228.5H220V229.0H222V228.9H223V229.0H224V228.5H225V228.8H227V228.9H228V229.1H229V228.9H230V228.5H231V228.6H233V229.0H234.5V226.0H236V228.8H237V228.9H238V228.8H240V228.7H241V228.9H242V228.6H243V229.0H244V228.5H245V228.8H246V229.1H247V228.9H248V228.8H249V228.9H250V228.8H251V228.9H252V226.0H253.5V228.6H254V228.9H255V228.7H256V228.6H257V228.7H258V228.8H259V228.5H260V228.8H261V228.5H262V227.5H263V228.8H264V228.7H265V229.1H266V228.5H267V229.1H268V228.7H269V229.0H270V228.5H271V228.8H272V228.6H273V228.8H274V228.7H276V228.9H277V227.0H278V228.6H279V229.0H280V228.5H281V229.0H282V229.1H284V228.6H285V228.5H286V228.9H287V227.5H288V229.0H289V228.5H290V228.7H291V229.0H292V229.1H293V228.7H294V229.1H295V228.6H296V228.9H297V229.0H298V228.7H299V228.9H300V228.8H301V229.0H302V228.5H303V228.9H304V228.6H305V229.0H306V228.6H307V228.5H308V228.9H309V229.1H310V228.9H311V228.7H312V229.0H313V228.8H314V229.1H315V228.8H316V228.6H317V228.8H318V228.7H319V229.1H320V228.6H321V229.1H322V228.5H325V228.8H326V228.9H328V228.6H329V228.8H330V228.5H331V229.1H332V228.8H333V228.5H334V228.7H335V228.8H336V229.1H338V229.0H339V228.5H340V228.6H341V229.0H342V228.5H343V229.1H344V228.7H345V228.5H346V228.9H347V227.0H348V228.7H349V229.1H350V228.9H351V228.8H352V229.0H353V228.6H354V229.0H355V228.6H356V228.9H357V229.1H358V228.8H359V229.1H360V228.8H361V228.6H362V228.7H363V228.8H364V229.1H365V228.8H366V229.1H367V228.7H368V229.1H369V228.7H370V228.9H372V228.7H373V229.0H375V228.5H376V228.9H377V228.6H378V228.5H379V226.4H380V229.0H381V229.1H382V228.5H383V229.1H383.5V226.7H385.5V228.8H386V229.1H387V228.8H388V229.0H389V228.8H391V228.9H392V229.0H393V228.9H394V229.0H395V229.1H396V229.0H396.5V213.9H399V208.6H401V228.5H402V228.8H403V228.6H404V227.1H406V229.0H407V228.6H408V229.0H410V229.1H411V228.9H412V228.8H413V228.9H414V228.5H415V229.1H416V228.7H417V229.0H418V228.7H419V228.6H420V228.7H421V229.1H422V229.0H423V228.7H424V228.5H424.5V226.0H425.5V229.1H426V228.7H428V228.6H429V228.9H430V228.6H431V228.8H432V228.5H433V229.1H434V228.5H435V228.9H437V229.1H438V229.0H439V228.6H440V228.7H441V229.0H442V228.9H443V229.1H444V229.0H446V228.9H447V228.5H449V228.6H450V228.8H452V228.6H453V228.5H454V228.6H455V228.7H456V229.0H457V228.7H458V228.6H460V229.1H461V228.6H462V228.9H463V229.0H464V228.5H465V228.7H466V228.6H467V229.1H468V228.6H469V228.5H471V228.6H474V216.9H475.5V214.9H477V208.5H479V228.9H480V228.5H481V228.8H482V228.5H483V229.1H484V228.5H485V228.6H486V229.0H487V228.6H488V229.0H488.5V227.1H490.5V228.8H491V229.0H492V228.8H493V228.5H494V228.7H496V228.9H496.5V228.0H498.5V228.6H499V228.7H500V228.5H501V228.6H502V228.9H503V228.0H505V228.6H506V228.9H507V228.7H508V228.6H510V229.1H511V228.8H512V229.1H514V227.7H515.5V228.9H516V228.7H517V228.8H518V229.5 Z" fill="#000"/>
<path d="M51,258.2H51V251.2H52.5V254.9H53.5V255.5H55V254.3H56V256.7H57V257.8H58V257.7H58.5V256.1H59.5V257.4H60V257.6H61V257.4H61.5V253.6H63.5V257.8H64V257.4H65V256.1H66.5V257.3H67V257.7H68.5V251.8H70V256.7H71.5V257.7H72V255.5H74V257.3H75V257.6H75.5V256.1H77V257.3H77.5V254.9H79.5V256.7H81V257.3H82V257.7H83V257.5H84V257.8H85V257.7H86V257.3H87V257.6H87.5V256.1H88.5V257.3H89V249.3H91V255.5H92.5V257.5H93V253.6H94V254.9H95.5V257.6H96V257.3H97V251.8H99V253.0H100.5V254.9H102V254.3H104V255.5H106V256.1H107V254.9H108.5V256.7H112V256.1H113V257.8H114V257.3H115V257.4H116V257.5H117V257.6H118V257.4H119V257.3H120V257.4H122V257.8H123V257.6H124V257.8H125V257.3H125.5V254.9H127.5V257.8H128V257.5H129V256.1H131V257.6H132V257.4H133.5V256.7H136V257.7H137V257.5H138V257.6H139V257.2H140V257.4H141V257.3H142V257.4H143V257.6H144V257.2H144.5V255.5H147V257.7H149V256.1H150V257.3H151V257.4H151.5V256.1H153V257.8H154V257.5H155V257.3H156V257.7H157V257.4H158V257.7H160V257.8H160.5V257.3H162V257.6H163V257.2H164.5V253.0H166V256.7H167.5V257.3H168V257.7H169V257.6H171V257.8H172V257.7H173V257.6H175V257.2H176V257.7H178V257.3H178.5V251.2H181V257.5H182V257.4H183V257.7H184V257.8H185V257.4H186V254.9H187.5V256.7H189.5V257.4H190V257.7H191V257.6H192V257.3H197V257.4H198V257.8H199V257.3H200V257.5H201V257.6H202V257.3H203V257.7H205V257.8H206V255.5H208V257.4H209V257.6H210V257.3H211V257.8H212V257.7H213V257.4H214V257.2H215V257.5H216V257.4H218V257.6H219V257.3H220V257.4H221V257.6H223V257.3H224V257.6H225V257.7H226V257.0H227.5V257.3H232V257.6H233V257.8H234V257.6H235V257.5H236V257.3H237V257.4H238V257.5H239V246.5H241V257.0H242.5V244.0H244.5V251.4H245.5V252.7H248V250.2H249.5V247.7H251.5V243.4H254V248.4H256V249.0H257.5V252.7H260V250.2H261.5V236.7H263V248.4H265V245.3H267V248.4H268V241.6H270V255.1H272.5V253.9H274.5V253.3H277.5V244.0H280V253.3H281V249.6H283V257.8H284V257.3H285V249.6H286.5V255.1H288.5V252.0H290.5V245.3H292V252.7H294V253.9H296V242.2H298.5V247.7H300V256.1H303.5V254.9H305.5V256.7H307V249.3H308.5V246.9H310.5V245.0H312.5V242.0H314V239.5H316V251.8H317V239.5H319V252.4H320.5V242.6H323.5V257.6H324V257.7H325V256.1H327V251.8H329V254.9H332V251.2H334V253.6H335V240.1H336.5V251.2H338V250.0H340V253.6H342V240.1H343.5V254.3H345.5V257.8H346V257.3H347V257.4H347.5V252.4H349V250.0H351V248.1H353V246.3H355V256.1H356V244.4H358V248.1H360.5V257.6H361V255.1H363.5V245.3H365.5V252.7H367V257.3H368V257.4H369V257.6H370V257.3H371V254.5H373V252.7H375V255.1H376.5V257.7H377V257.8H378V257.3H379V257.4H380V257.3H381V257.2H382V257.6H383V257.4H384V248.4H386V257.3H387V257.8H389V254.5H391V255.7H392.5V257.8H393V257.3H394V257.4H395V254.5H396.5V251.4H398V255.1H400V247.1H402V257.3H403V257.5H404.5V257.0H407V255.1H409V257.8H410V257.5H411V257.8H411.5V254.5H414V252.0H416V250.8H418V257.8H419V249.0H421V249.6H422V252.0H423V253.9H423.5V255.1H424V257.4H425V257.7H426V257.4H428V257.6H429V257.8H430V253.9H431.5V251.4H433.5V255.1H435.5V248.4H437V255.1H438.5V251.4H440.5V252.7H442V255.7H444V254.5H446.5V257.8H447V257.7H448V257.3H449V257.7H449.5V245.3H451.5V256.4H453V257.3H454V257.7H455V257.8H457V257.4H458V257.8H459V252.7H460.5V255.1H462.5V252.0H464.5V257.5H465V257.8H466V257.4H467V257.0H468.5V248.4H470.5V257.3H471V257.5H472V257.3H473V256.4H475V255.7H478V254.5H479V257.5H480V257.7H481V257.6H482V257.8H483V257.4H484V257.8H485V257.3H486.5V257.1H488V257.8H489V257.4H490V257.7H491V257.6H492V257.8H493V257.1H495V257.6H496V257.8H497V257.4H498V257.3H500V257.8H501V257.6H502V257.7H503V257.4H504V257.8H505V257.5H506V257.2H506.5V257.0H508V257.8H511V257.4H512V257.5H514V256.7H517V257.4H518V258.2 Z" fill="#000"/>
<path d="M51,286.0H51V282.1H52.5V283.9H53.5V283.3H55.5V284.5H58V264.8H59.5V283.3H61.5V266.1H63.5V283.3H64.5V282.1H66.5V284.5H69V285.4H70V285.6H71V285.4H71.5V268.5H73V281.4H74.5V278.4H76.5V281.4H77.5V279.6H79.5V282.1H81V284.5H83.5V283.3H85.5V282.1H87.5V281.4H89V280.2H91V279.0H93V275.9H95V280.2H96.5V276.5H98.5V279.6H99.5V281.4H101.5V283.3H104.5V282.1H106.5V283.9H108.5V283.3H112V285.1H114.5V284.5H117V283.9H119V285.2H122V285.5H123V280.8H125.5V285.2H126V285.5H128V285.0H129V282.1H131V285.2H132V285.3H133V267.9H135.5V284.5H138V279.6H139.5V282.1H141V285.3H142V285.0H143V283.9H145V283.3H147.5V285.6H148V285.5H149V285.4H150V285.2H151V280.2H152.5V284.5H155V285.4H156V285.1H157V285.6H158V283.9H160.5V285.1H161V283.3H163.5V285.5H164V285.6H165V282.7H167V282.1H168.5V285.2H169V285.3H170V285.2H171V285.5H172V285.6H172.5V278.4H175V285.4H176V285.1H178.5V284.5H182V285.6H183V275.9H184.5V284.5H189.5V281.4H191.5V284.8H205.5V285.6H206V280.2H208.5V283.9H211.5V282.1H213V285.2H214V282.7H216.5V284.5H220.5V282.7H223V284.5H229V282.1H232V284.5H238.5V285.1H239V274.6H239.5V263.9H240V264.0H240.5V264.1H241V264.2H241.5V264.3H242V264.4H242.5V264.5H243V264.8H243.5V265.4H244V266.1H244.5V267.1H245V268.2H245.5V268.6H246V268.8H246.5V269.0H247V269.2H247.5V269.4H248V269.7H248.5V270.0H249V270.3H249.5V270.6H250V270.9H250.5V271.2H251V271.5H251.5V271.9H252V272.2H252.5V272.8H253V273.2H253.5V273.8H254V274.1H254.5V274.2H255V274.3H255.5V274.4H256V274.5H256.5V274.6H257V274.7H257.5V274.8H258V274.9H258.5V275.0H259V275.1H259.5V275.2H260V275.3H260.5V275.4H261V275.5H261.5V275.6H262V275.7H262.5V275.8H263V275.9H263.5V276.0H264V276.1H264.5V276.3H265V276.4H265.5V276.5H266V276.6H266.5V276.7H267V276.8H267.5V276.9H268V277.0H268.5V277.1H269V277.2H269.5V277.3H270.5V277.4H271V277.5H271.5V277.6H272V277.7H273V277.8H273.5V277.9H274V278.0H274.5V278.1H275V278.2H275.5V278.3H276.5V278.4H277V278.5H277.5V278.6H278V278.7H278.5V278.8H279V278.9H279.5V279.0H280.5V279.1H281V279.2H281.5V279.3H282V279.4H282.5V279.5H283V279.6H284V279.7H284.5V279.8H285V279.9H285.5V280.0H286.5V280.1H287V280.2H287.5V280.3H288.5V280.4H289V280.5H290V280.6H290.5V280.7H291.5V280.8H292V280.9H293V281.0H294V281.1H294.5V281.2H295V281.3H296V281.4H296.5V281.5H297.5V281.6H298V281.7H299V281.8H299.5V281.9H300V282.0H301V282.1H301.5V282.2H303V282.3H304.5V282.4H306V282.5H307.5V282.6H309V282.7H311V282.8H313.5V282.9H316.5V283.0H318.5V283.1H321.5V283.2H324.5V283.3H327V283.4H330V283.5H333V283.6H335.5V283.7H338.5V283.8H341.5V283.9H344.5V284.0H347.5V284.1H350.5V284.2H353.5V284.3H356.5V284.4H359V284.5H360V278.4H361V275.9H362.5V271.0H363.5V284.5H365.5V280.8H367V284.5H368.5V268.5H370.5V282.1H372.5V283.3H375V271.6H376.5V273.4H378.5V284.5H381.5V279.6H383.5V284.8H389V281.4H392.5V284.5H397V283.3H399V280.2H400.5V283.3H402.5V283.9H407V282.1H408.5V277.8H410.5V284.5H414V274.1H416V279.0H418V280.8H420.5V274.1H422V279.0H423.5V268.5H425.5V284.5H427.5V283.9H429V275.3H431.5V282.1H433.5V283.9H435.5V283.3H437V279.6H439V284.5H441.5V281.4H443.5V280.2H446V282.7H447.5V284.5H451V281.4H453V283.3H457V282.7H459V281.4H460.5V283.9H463V284.5H466V283.3H470.5V282.7H472.5V282.1H474V283.3H476.5V277.1H479V285.5H480V285.2H481V285.1H482V285.6H483V285.2H486V285.1H487V285.2H488V285.5H489V285.6H490V285.2H491V285.3H492V285.6H493V285.5H493.5V276.9H495V285.6H496V285.3H497V285.5H499V285.4H500V285.3H501V285.2H502V285.6H503V285.2H504V284.9H506.5V285.3H507V285.2H508V285.3H509V285.1H510V285.5H512V285.2H513V285.5H514V281.1H516.5V285.2H517V285.1H518V286.0 Z" fill="#000"/>
<text x="0.5" y="320.6" class="pl">B</text>
<text x="74.5" y="330.6" class="hd" text-anchor="middle">PR</text>
<text x="148.4" y="330.6" class="hd" text-anchor="middle">LB</text>
<text x="219.6" y="330.6" class="hd" text-anchor="middle">MS</text>
<text x="335.8" y="330.6" class="hd" text-anchor="middle">HY</text>
<text x="411.6" y="330.6" class="hd" text-anchor="middle">CD-1</text>
<text x="440.6" y="330.6" class="hd" text-anchor="middle">CD-2</text>
<text x="495.1" y="330.6" class="hd" text-anchor="middle">MF</text>
<rect x="48" y="341.2" width="470" height="1" fill="#f1f1f1"/>
<rect x="48" y="348.1" width="470" height="1" fill="#f1f1f1"/>
<rect x="48" y="354.9" width="470" height="1" fill="#f1f1f1"/>
<rect x="48" y="361.8" width="470" height="1" fill="#f1f1f1"/>
<rect x="48" y="373.2" width="470" height="1" fill="#f1f1f1"/>
<rect x="48" y="377.9" width="470" height="1" fill="#f1f1f1"/>
<rect x="48" y="382.6" width="470" height="1" fill="#f1f1f1"/>
<rect x="48" y="387.2" width="470" height="1" fill="#f1f1f1"/>
<rect x="48" y="391.9" width="470" height="1" fill="#f1f1f1"/>
<rect x="48" y="401.1" width="470" height="1" fill="#f1f1f1"/>
<rect x="48" y="405.7" width="470" height="1" fill="#f1f1f1"/>
<rect x="48" y="410.4" width="470" height="1" fill="#f1f1f1"/>
<rect x="48" y="415.0" width="470" height="1" fill="#f1f1f1"/>
<rect x="48" y="419.6" width="470" height="1" fill="#f1f1f1"/>
<rect x="48" y="428.5" width="470" height="1" fill="#f1f1f1"/>
<rect x="48" y="432.9" width="470" height="1" fill="#f1f1f1"/>
<rect x="48" y="437.2" width="470" height="1" fill="#f1f1f1"/>
<rect x="48" y="441.6" width="470" height="1" fill="#f1f1f1"/>
<rect x="48" y="445.9" width="470" height="1" fill="#f1f1f1"/>
<rect x="48" y="454.6" width="470" height="1" fill="#f1f1f1"/>
<rect x="48" y="458.9" width="470" height="1" fill="#f1f1f1"/>
<rect x="48" y="463.3" width="470" height="1" fill="#f1f1f1"/>
<rect x="48" y="467.6" width="470" height="1" fill="#f1f1f1"/>
<rect x="48" y="472.0" width="470" height="1" fill="#f1f1f1"/>
<rect x="48" y="481.1" width="470" height="1" fill="#f1f1f1"/>
<rect x="48" y="485.9" width="470" height="1" fill="#f1f1f1"/>
<rect x="48" y="490.8" width="470" height="1" fill="#f1f1f1"/>
<rect x="48" y="495.6" width="470" height="1" fill="#f1f1f1"/>
<rect x="48" y="500.4" width="470" height="1" fill="#f1f1f1"/>
<rect x="48" y="509.8" width="470" height="1" fill="#f1f1f1"/>
<rect x="48" y="514.4" width="470" height="1" fill="#f1f1f1"/>
<rect x="48" y="518.9" width="470" height="1" fill="#f1f1f1"/>
<rect x="48" y="523.5" width="470" height="1" fill="#f1f1f1"/>
<rect x="48" y="528.0" width="470" height="1" fill="#f1f1f1"/>
<rect x="48" y="537.4" width="470" height="1" fill="#f1f1f1"/>
<rect x="48" y="542.2" width="470" height="1" fill="#f1f1f1"/>
<rect x="48" y="547.0" width="470" height="1" fill="#f1f1f1"/>
<rect x="48" y="551.9" width="470" height="1" fill="#f1f1f1"/>
<rect x="48" y="556.7" width="470" height="1" fill="#f1f1f1"/>
<rect x="48" y="566.2" width="470" height="1" fill="#f1f1f1"/>
<rect x="48" y="570.9" width="470" height="1" fill="#f1f1f1"/>
<rect x="48" y="575.6" width="470" height="1" fill="#f1f1f1"/>
<rect x="48" y="580.3" width="470" height="1" fill="#f1f1f1"/>
<rect x="48" y="585.0" width="470" height="1" fill="#f1f1f1"/>
<rect x="103.25" y="337.0" width="1" height="255.0" fill="#8c8c8c"/>
<rect x="181.10" y="337.0" width="1" height="255.0" fill="#8c8c8c"/>
<rect x="251.90" y="337.0" width="1" height="255.0" fill="#8c8c8c"/>
<rect x="401.10" y="337.0" width="1" height="255.0" fill="#8c8c8c"/>
<rect x="418.10" y="337.0" width="1" height="255.0" fill="#8c8c8c"/>
<rect x="468.10" y="337.0" width="1" height="255.0" fill="#8c8c8c"/>
<rect x="51.25" y="332.2" width="52.50" height="4.4" fill="#f01414"/>
<rect x="103.75" y="332.2" width="77.75" height="4.4" fill="#2ad814"/>
<rect x="181.50" y="332.2" width="71.00" height="4.4" fill="#f59a14"/>
<rect x="252.50" y="332.2" width="148.70" height="4.4" fill="#98002c"/>
<rect x="401.20" y="332.2" width="17.30" height="4.4" fill="#000000"/>
<rect x="418.50" y="332.2" width="50.00" height="4.4" fill="#2476ee"/>
<rect x="468.50" y="332.2" width="48.00" height="4.4" fill="#22f4f0"/>
<text x="42.4" y="360.2" class="rl" text-anchor="end">MAF</text>
<text x="42.4" y="389.2" class="rl" text-anchor="end">MAFB</text>
<text x="42.4" y="418.8" class="rl" text-anchor="end">FGFR3</text>
<text x="42.4" y="447.2" class="rl" text-anchor="end">MMSET</text>
<text x="42.4" y="479.2" class="rl" text-anchor="end">CCND1</text>
<text x="42.4" y="505.6" class="rl" text-anchor="end">CCND2</text>
<text x="42.4" y="534.5" class="rl" text-anchor="end">CCND3</text>
<text x="42.4" y="562.9" class="rl" text-anchor="end">FRZB</text>
<text x="42.4" y="591.9" class="rl" text-anchor="end">DKK1</text>
<path d="M51.40,369.6h2.00v-1.0h-2.00zM66.07,369.6h2.00v-0.4h-2.00zM77.81,369.6h2.00v-0.7h-2.00zM80.75,369.6h2.00v-0.5h-2.00zM98.35,369.6h2.00v-0.7h-2.00zM101.29,369.6h2.00v-0.7h-2.00zM104.21,369.6h1.96v-0.6h-1.96zM107.09,369.6h1.96v-0.9h-1.96zM109.97,369.6h1.96v-0.7h-1.96zM112.85,369.6h1.96v-0.9h-1.96zM115.73,369.6h1.96v-0.5h-1.96zM118.61,369.6h1.96v-0.4h-1.96zM121.49,369.6h1.96v-0.6h-1.96zM124.37,369.6h1.96v-0.7h-1.96zM127.25,369.6h1.96v-0.6h-1.96zM130.13,369.6h1.96v-0.8h-1.96zM133.01,369.6h1.96v-0.5h-1.96zM135.89,369.6h1.96v-0.6h-1.96zM138.77,369.6h1.96v-0.7h-1.96zM141.65,369.6h1.96v-0.9h-1.96zM144.53,369.6h1.96v-0.9h-1.96zM147.41,369.6h1.96v-0.6h-1.96zM150.28,369.6h1.96v-0.7h-1.96zM153.16,369.6h1.96v-1.0h-1.96zM156.04,369.6h1.96v-1.0h-1.96zM158.92,369.6h1.96v-0.8h-1.96zM167.56,369.6h1.96v-0.8h-1.96zM170.44,369.6h1.96v-0.6h-1.96zM173.32,369.6h1.96v-0.4h-1.96zM176.20,369.6h1.96v-1.0h-1.96zM179.08,369.6h1.96v-1.0h-1.96zM181.97,369.6h2.01v-0.5h-2.01zM184.92,369.6h2.01v-0.7h-2.01zM187.87,369.6h2.01v-0.8h-2.01zM196.72,369.6h2.01v-0.9h-2.01zM199.67,369.6h2.01v-0.9h-2.01zM202.62,369.6h2.01v-0.7h-2.01zM205.57,369.6h2.01v-0.5h-2.01zM208.52,369.6h2.01v-0.7h-2.01zM211.47,369.6h2.01v-0.5h-2.01zM217.37,369.6h2.01v-0.4h-2.01zM220.32,369.6h2.01v-0.6h-2.01zM223.27,369.6h2.01v-0.9h-2.01zM226.22,369.6h2.01v-0.5h-2.01zM229.17,369.6h2.01v-0.5h-2.01zM232.12,369.6h2.01v-0.4h-2.01zM235.07,369.6h2.01v-0.5h-2.01zM238.02,369.6h2.01v-0.7h-2.01zM240.97,369.6h2.01v-0.9h-2.01zM243.92,369.6h2.01v-0.5h-2.01zM249.82,369.6h2.01v-0.9h-2.01zM252.76,369.6h1.95v-0.7h-1.95zM255.63,369.6h1.95v-0.6h-1.95zM258.50,369.6h1.95v-0.5h-1.95zM261.37,369.6h1.95v-0.6h-1.95zM264.24,369.6h1.95v-1.0h-1.95zM267.11,369.6h1.95v-0.5h-1.95zM275.71,369.6h1.95v-1.0h-1.95zM278.58,369.6h1.95v-1.0h-1.95zM281.45,369.6h1.95v-0.7h-1.95zM284.32,369.6h1.95v-1.0h-1.95zM287.19,369.6h1.95v-0.8h-1.95zM290.06,369.6h1.95v-0.6h-1.95zM292.93,369.6h1.95v-0.7h-1.95zM298.67,369.6h1.95v-0.9h-1.95zM301.54,369.6h1.95v-0.5h-1.95zM304.41,369.6h1.95v-0.5h-1.95zM307.27,369.6h1.95v-1.0h-1.95zM321.62,369.6h1.95v-0.6h-1.95zM324.49,369.6h1.95v-0.7h-1.95zM330.23,369.6h1.95v-0.5h-1.95zM333.10,369.6h1.95v-0.9h-1.95zM335.97,369.6h1.95v-0.6h-1.95zM338.84,369.6h1.95v-0.5h-1.95zM341.71,369.6h1.95v-0.9h-1.95zM353.18,369.6h1.95v-0.9h-1.95zM356.05,369.6h1.95v-1.0h-1.95zM358.92,369.6h1.95v-0.8h-1.95zM361.79,369.6h1.95v-0.4h-1.95zM364.66,369.6h1.95v-0.9h-1.95zM367.53,369.6h1.95v-0.8h-1.95zM370.40,369.6h1.95v-1.0h-1.95zM373.27,369.6h1.95v-1.0h-1.95zM376.14,369.6h1.95v-0.6h-1.95zM384.74,369.6h1.95v-0.6h-1.95zM387.61,369.6h1.95v-0.6h-1.95zM396.22,369.6h1.95v-0.6h-1.95zM399.09,369.6h1.95v-0.5h-1.95zM401.95,369.6h1.93v-0.5h-1.93zM404.79,369.6h1.93v-1.0h-1.93zM407.62,369.6h1.93v-0.7h-1.93zM410.45,369.6h1.93v-0.8h-1.93zM413.29,369.6h1.93v-1.0h-1.93zM416.12,369.6h1.93v-0.9h-1.93zM418.97,369.6h2.00v-0.6h-2.00zM421.91,369.6h2.00v-1.0h-2.00zM424.85,369.6h2.00v-0.9h-2.00zM427.79,369.6h2.00v-1.0h-2.00zM430.74,369.6h2.00v-0.9h-2.00zM433.68,369.6h2.00v-0.9h-2.00zM436.62,369.6h2.00v-0.9h-2.00zM439.56,369.6h2.00v-0.6h-2.00zM445.44,369.6h2.00v-0.6h-2.00zM448.38,369.6h2.00v-0.9h-2.00zM451.32,369.6h2.00v-0.5h-2.00zM454.26,369.6h2.00v-0.7h-2.00zM457.21,369.6h2.00v-0.6h-2.00zM460.15,369.6h2.00v-0.9h-2.00zM463.09,369.6h2.00v-0.6h-2.00zM466.03,369.6h2.00v-0.9h-2.00zM500.34,369.6h1.94v-0.6h-1.94zM506.04,369.6h1.94v-0.9h-1.94zM514.60,369.6h1.94v-0.6h-1.94zM48.35,369.6h2.10v-7.2h-2.10zM54.95,369.6h2.10v-2.0h-2.10zM57.95,369.6h2.10v-1.5h-2.10zM60.95,369.6h2.10v-1.5h-2.10zM63.95,369.6h2.10v-1.5h-2.10zM69.95,369.6h2.10v-1.5h-2.10zM72.95,369.6h2.10v-2.0h-2.10zM85.35,369.6h2.10v-5.0h-2.10zM87.95,369.6h2.10v-1.5h-2.10zM93.95,369.6h2.10v-1.0h-2.10zM163.45,369.6h2.10v-2.0h-2.10zM192.70,369.6h2.10v-4.0h-2.10zM213.95,369.6h2.10v-4.0h-2.10zM246.95,369.6h2.10v-5.0h-2.10zM270.20,369.6h2.10v-3.5h-2.10zM271.45,369.6h2.10v-3.5h-2.10zM296.45,369.6h2.10v-8.8h-2.10zM311.45,369.6h2.10v-2.0h-2.10zM317.70,369.6h2.10v-1.5h-2.10zM326.45,369.6h2.10v-1.5h-2.10zM346.45,369.6h2.10v-2.0h-2.10zM348.95,369.6h2.10v-2.0h-2.10zM380.20,369.6h2.10v-2.5h-2.10zM389.95,369.6h2.10v-1.5h-2.10zM393.95,369.6h2.10v-1.5h-2.10zM442.25,369.6h2.10v-2.8h-2.10zM469.25,369.6h2.10v-20.2h-2.10zM472.15,369.6h2.10v-15.4h-2.10zM475.05,369.6h2.10v-14.4h-2.10zM477.95,369.6h2.10v-10.1h-2.10zM480.85,369.6h2.10v-10.1h-2.10zM483.85,369.6h2.10v-9.6h-2.10zM486.35,369.6h2.10v-8.8h-2.10zM487.55,369.6h2.10v-8.8h-2.10zM490.75,369.6h2.10v-7.9h-2.10zM493.65,369.6h2.10v-7.2h-2.10zM496.45,369.6h2.10v-6.2h-2.10zM502.95,369.6h2.10v-1.0h-2.10zM510.65,369.6h2.10v-1.0h-2.10z" fill="#000"/>
<path d="M48.47,397.5h2.00v-0.5h-2.00zM51.40,397.5h2.00v-0.4h-2.00zM54.34,397.5h2.00v-0.5h-2.00zM57.27,397.5h2.00v-0.3h-2.00zM60.21,397.5h2.00v-0.8h-2.00zM63.14,397.5h2.00v-0.4h-2.00zM66.07,397.5h2.00v-0.4h-2.00zM69.01,397.5h2.00v-0.4h-2.00zM71.94,397.5h2.00v-0.7h-2.00zM74.88,397.5h2.00v-0.4h-2.00zM77.81,397.5h2.00v-0.6h-2.00zM80.75,397.5h2.00v-0.5h-2.00zM83.68,397.5h2.00v-0.8h-2.00zM86.61,397.5h2.00v-0.9h-2.00zM89.55,397.5h2.00v-0.5h-2.00zM92.48,397.5h2.00v-0.7h-2.00zM95.42,397.5h2.00v-0.8h-2.00zM98.35,397.5h2.00v-0.6h-2.00zM101.29,397.5h2.00v-0.8h-2.00zM104.21,397.5h1.96v-0.7h-1.96zM107.09,397.5h1.96v-0.5h-1.96zM109.97,397.5h1.96v-0.8h-1.96zM112.85,397.5h1.96v-0.6h-1.96zM115.73,397.5h1.96v-0.4h-1.96zM118.61,397.5h1.96v-0.6h-1.96zM121.49,397.5h1.96v-0.8h-1.96zM124.37,397.5h1.96v-0.6h-1.96zM127.25,397.5h1.96v-0.6h-1.96zM130.13,397.5h1.96v-0.6h-1.96zM133.01,397.5h1.96v-0.8h-1.96zM135.89,397.5h1.96v-0.7h-1.96zM138.77,397.5h1.96v-0.4h-1.96zM141.65,397.5h1.96v-0.5h-1.96zM144.53,397.5h1.96v-0.5h-1.96zM147.41,397.5h1.96v-0.9h-1.96zM150.28,397.5h1.96v-0.7h-1.96zM153.16,397.5h1.96v-0.4h-1.96zM156.04,397.5h1.96v-0.8h-1.96zM158.92,397.5h1.96v-0.3h-1.96zM161.80,397.5h1.96v-0.7h-1.96zM164.68,397.5h1.96v-0.6h-1.96zM167.56,397.5h1.96v-0.7h-1.96zM170.44,397.5h1.96v-0.6h-1.96zM173.32,397.5h1.96v-0.4h-1.96zM176.20,397.5h1.96v-0.6h-1.96zM179.08,397.5h1.96v-0.8h-1.96zM181.97,397.5h2.01v-0.8h-2.01zM184.92,397.5h2.01v-0.5h-2.01zM187.87,397.5h2.01v-0.4h-2.01zM190.82,397.5h2.01v-0.7h-2.01zM193.77,397.5h2.01v-0.8h-2.01zM196.72,397.5h2.01v-0.4h-2.01zM199.67,397.5h2.01v-0.8h-2.01zM202.62,397.5h2.01v-0.9h-2.01zM205.57,397.5h2.01v-0.6h-2.01zM208.52,397.5h2.01v-0.5h-2.01zM211.47,397.5h2.01v-0.7h-2.01zM214.42,397.5h2.01v-0.8h-2.01zM217.37,397.5h2.01v-0.4h-2.01zM220.32,397.5h2.01v-0.5h-2.01zM223.27,397.5h2.01v-0.5h-2.01zM226.22,397.5h2.01v-0.7h-2.01zM229.17,397.5h2.01v-0.4h-2.01zM232.12,397.5h2.01v-0.6h-2.01zM235.07,397.5h2.01v-0.6h-2.01zM238.02,397.5h2.01v-0.7h-2.01zM240.97,397.5h2.01v-0.4h-2.01zM243.92,397.5h2.01v-0.9h-2.01zM246.87,397.5h2.01v-0.9h-2.01zM249.82,397.5h2.01v-0.6h-2.01zM252.76,397.5h1.95v-0.8h-1.95zM255.63,397.5h1.95v-0.4h-1.95zM258.50,397.5h1.95v-0.8h-1.95zM261.37,397.5h1.95v-0.6h-1.95zM264.24,397.5h1.95v-0.7h-1.95zM267.11,397.5h1.95v-0.8h-1.95zM269.97,397.5h1.95v-0.5h-1.95zM272.84,397.5h1.95v-0.8h-1.95zM275.71,397.5h1.95v-0.4h-1.95zM278.58,397.5h1.95v-0.3h-1.95zM281.45,397.5h1.95v-0.6h-1.95zM284.32,397.5h1.95v-0.8h-1.95zM287.19,397.5h1.95v-0.8h-1.95zM290.06,397.5h1.95v-0.9h-1.95zM292.93,397.5h1.95v-0.6h-1.95zM295.80,397.5h1.95v-0.8h-1.95zM298.67,397.5h1.95v-0.6h-1.95zM301.54,397.5h1.95v-0.4h-1.95zM304.41,397.5h1.95v-0.7h-1.95zM307.27,397.5h1.95v-0.8h-1.95zM310.14,397.5h1.95v-0.6h-1.95zM313.01,397.5h1.95v-0.7h-1.95zM315.88,397.5h1.95v-0.5h-1.95zM318.75,397.5h1.95v-0.5h-1.95zM321.62,397.5h1.95v-0.6h-1.95zM324.49,397.5h1.95v-0.6h-1.95zM327.36,397.5h1.95v-0.6h-1.95zM330.23,397.5h1.95v-0.4h-1.95zM333.10,397.5h1.95v-0.3h-1.95zM335.97,397.5h1.95v-0.5h-1.95zM338.84,397.5h1.95v-0.7h-1.95zM341.71,397.5h1.95v-0.7h-1.95zM344.57,397.5h1.95v-0.5h-1.95zM347.44,397.5h1.95v-0.5h-1.95zM350.31,397.5h1.95v-0.6h-1.95zM353.18,397.5h1.95v-0.4h-1.95zM356.05,397.5h1.95v-0.7h-1.95zM358.92,397.5h1.95v-0.8h-1.95zM361.79,397.5h1.95v-0.4h-1.95zM364.66,397.5h1.95v-0.6h-1.95zM367.53,397.5h1.95v-0.7h-1.95zM370.40,397.5h1.95v-0.7h-1.95zM373.27,397.5h1.95v-0.7h-1.95zM376.14,397.5h1.95v-0.7h-1.95zM379.01,397.5h1.95v-0.5h-1.95zM381.87,397.5h1.95v-0.8h-1.95zM384.74,397.5h1.95v-0.8h-1.95zM387.61,397.5h1.95v-0.3h-1.95zM390.48,397.5h1.95v-0.8h-1.95zM393.35,397.5h1.95v-0.6h-1.95zM396.22,397.5h1.95v-0.4h-1.95zM399.09,397.5h1.95v-0.4h-1.95zM401.95,397.5h1.93v-0.8h-1.93zM404.79,397.5h1.93v-0.7h-1.93zM407.62,397.5h1.93v-0.4h-1.93zM410.45,397.5h1.93v-0.6h-1.93zM413.29,397.5h1.93v-0.7h-1.93zM416.12,397.5h1.93v-0.9h-1.93zM418.97,397.5h2.00v-0.5h-2.00zM421.91,397.5h2.00v-0.7h-2.00zM424.85,397.5h2.00v-0.5h-2.00zM427.79,397.5h2.00v-0.4h-2.00zM430.74,397.5h2.00v-0.4h-2.00zM433.68,397.5h2.00v-0.5h-2.00zM436.62,397.5h2.00v-0.7h-2.00zM439.56,397.5h2.00v-0.5h-2.00zM442.50,397.5h2.00v-0.4h-2.00zM445.44,397.5h2.00v-0.4h-2.00zM448.38,397.5h2.00v-0.4h-2.00zM451.32,397.5h2.00v-0.4h-2.00zM454.26,397.5h2.00v-0.5h-2.00zM457.21,397.5h2.00v-0.6h-2.00zM460.15,397.5h2.00v-0.4h-2.00zM463.09,397.5h2.00v-0.6h-2.00zM466.03,397.5h2.00v-0.6h-2.00zM468.96,397.5h1.94v-0.9h-1.94zM471.81,397.5h1.94v-0.6h-1.94zM474.66,397.5h1.94v-0.8h-1.94zM477.52,397.5h1.94v-0.6h-1.94zM480.37,397.5h1.94v-0.4h-1.94zM483.22,397.5h1.94v-0.7h-1.94zM486.07,397.5h1.94v-0.4h-1.94zM488.93,397.5h1.94v-0.4h-1.94zM491.78,397.5h1.94v-0.4h-1.94zM494.63,397.5h1.94v-0.7h-1.94zM508.90,397.5h1.94v-0.5h-1.94zM511.75,397.5h1.94v-0.7h-1.94zM514.60,397.5h1.94v-0.5h-1.94zM499.25,397.5h2.10v-23.3h-2.10zM502.25,397.5h2.10v-10.2h-2.10zM504.85,397.5h2.10v-9.1h-2.10z" fill="#000"/>
<path d="M51.40,425.2h2.00v-0.4h-2.00zM60.21,425.2h2.00v-0.4h-2.00zM63.14,425.2h2.00v-0.3h-2.00zM69.01,425.2h2.00v-0.3h-2.00zM71.94,425.2h2.00v-0.4h-2.00zM86.61,425.2h2.00v-0.3h-2.00zM89.55,425.2h2.00v-0.4h-2.00zM92.48,425.2h2.00v-0.5h-2.00zM101.29,425.2h2.00v-0.4h-2.00zM104.21,425.2h1.96v-0.4h-1.96zM109.97,425.2h1.96v-0.3h-1.96zM115.73,425.2h1.96v-0.5h-1.96zM130.13,425.2h1.96v-0.4h-1.96zM133.01,425.2h1.96v-0.4h-1.96zM150.28,425.2h1.96v-0.4h-1.96zM158.92,425.2h1.96v-0.4h-1.96zM176.20,425.2h1.96v-0.4h-1.96zM240.97,425.2h2.01v-0.4h-2.01zM243.92,425.2h2.01v-0.5h-2.01zM249.82,425.2h2.01v-0.4h-2.01zM255.63,425.2h1.95v-0.4h-1.95zM264.24,425.2h1.95v-0.4h-1.95zM267.11,425.2h1.95v-0.4h-1.95zM275.71,425.2h1.95v-0.4h-1.95zM278.58,425.2h1.95v-0.4h-1.95zM284.32,425.2h1.95v-0.5h-1.95zM298.67,425.2h1.95v-0.3h-1.95zM301.54,425.2h1.95v-0.3h-1.95zM315.88,425.2h1.95v-0.3h-1.95zM318.75,425.2h1.95v-0.5h-1.95zM324.49,425.2h1.95v-0.5h-1.95zM338.84,425.2h1.95v-0.5h-1.95zM341.71,425.2h1.95v-0.5h-1.95zM344.57,425.2h1.95v-0.3h-1.95zM358.92,425.2h1.95v-0.4h-1.95zM367.53,425.2h1.95v-0.3h-1.95zM376.14,425.2h1.95v-0.4h-1.95zM384.74,425.2h1.95v-0.4h-1.95zM396.22,425.2h1.95v-0.5h-1.95zM399.09,425.2h1.95v-0.4h-1.95zM401.95,425.2h1.93v-0.4h-1.93zM416.12,425.2h1.93v-0.3h-1.93zM421.91,425.2h2.00v-0.4h-2.00zM424.85,425.2h2.00v-0.4h-2.00zM433.68,425.2h2.00v-0.4h-2.00zM439.56,425.2h2.00v-0.3h-2.00zM445.44,425.2h2.00v-0.3h-2.00zM451.32,425.2h2.00v-0.5h-2.00zM454.26,425.2h2.00v-0.5h-2.00zM457.21,425.2h2.00v-0.4h-2.00zM471.81,425.2h1.94v-0.4h-1.94zM474.66,425.2h1.94v-0.4h-1.94zM477.52,425.2h1.94v-0.4h-1.94zM480.37,425.2h1.94v-0.4h-1.94zM483.22,425.2h1.94v-0.5h-1.94zM486.07,425.2h1.94v-0.3h-1.94zM491.78,425.2h1.94v-0.4h-1.94zM503.19,425.2h1.94v-0.4h-1.94zM511.75,425.2h1.94v-0.4h-1.94zM56.45,425.2h2.10v-5.7h-2.10zM73.95,425.2h2.10v-1.0h-2.10zM163.45,425.2h2.10v-1.5h-2.10zM181.95,425.2h2.10v-23.5h-2.10zM184.95,425.2h2.10v-20.4h-2.10zM187.95,425.2h2.10v-15.9h-2.10zM190.95,425.2h2.10v-13.9h-2.10zM193.95,425.2h2.10v-13.9h-2.10zM196.95,425.2h2.10v-11.2h-2.10zM199.95,425.2h2.10v-10.8h-2.10zM202.95,425.2h2.10v-10.8h-2.10zM205.95,425.2h2.10v-10.0h-2.10zM208.95,425.2h2.10v-10.0h-2.10zM211.45,425.2h2.10v-9.5h-2.10zM213.95,425.2h2.10v-8.5h-2.10zM216.95,425.2h2.10v-8.3h-2.10zM219.95,425.2h2.10v-8.3h-2.10zM222.95,425.2h2.10v-7.0h-2.10zM225.95,425.2h2.10v-7.0h-2.10zM228.45,425.2h2.10v-6.5h-2.10zM230.95,425.2h2.10v-4.4h-2.10zM233.95,425.2h2.10v-1.7h-2.10zM236.45,425.2h2.10v-1.0h-2.10zM499.25,425.2h2.10v-1.0h-2.10z" fill="#000"/>
<path d="M60.21,451.2h2.00v-0.7h-2.00zM66.07,451.2h2.00v-0.7h-2.00zM69.01,451.2h2.00v-0.6h-2.00zM71.94,451.2h2.00v-0.9h-2.00zM74.88,451.2h2.00v-0.4h-2.00zM77.81,451.2h2.00v-0.8h-2.00zM80.75,451.2h2.00v-0.4h-2.00zM89.55,451.2h2.00v-0.9h-2.00zM92.48,451.2h2.00v-0.6h-2.00zM95.42,451.2h2.00v-0.8h-2.00zM104.21,451.2h1.96v-0.7h-1.96zM107.09,451.2h1.96v-0.4h-1.96zM109.97,451.2h1.96v-0.6h-1.96zM112.85,451.2h1.96v-0.8h-1.96zM115.73,451.2h1.96v-0.5h-1.96zM118.61,451.2h1.96v-0.7h-1.96zM121.49,451.2h1.96v-0.5h-1.96zM124.37,451.2h1.96v-0.6h-1.96zM127.25,451.2h1.96v-0.9h-1.96zM130.13,451.2h1.96v-0.9h-1.96zM133.01,451.2h1.96v-1.0h-1.96zM135.89,451.2h1.96v-0.6h-1.96zM138.77,451.2h1.96v-0.7h-1.96zM141.65,451.2h1.96v-0.8h-1.96zM144.53,451.2h1.96v-0.8h-1.96zM147.41,451.2h1.96v-0.6h-1.96zM150.28,451.2h1.96v-0.9h-1.96zM153.16,451.2h1.96v-0.6h-1.96zM156.04,451.2h1.96v-0.9h-1.96zM158.92,451.2h1.96v-0.6h-1.96zM161.80,451.2h1.96v-0.4h-1.96zM164.68,451.2h1.96v-0.8h-1.96zM167.56,451.2h1.96v-0.4h-1.96zM170.44,451.2h1.96v-0.8h-1.96zM173.32,451.2h1.96v-0.4h-1.96zM176.20,451.2h1.96v-1.0h-1.96zM252.76,451.2h1.95v-0.5h-1.95zM255.63,451.2h1.95v-0.4h-1.95zM258.50,451.2h1.95v-0.9h-1.95zM261.37,451.2h1.95v-0.6h-1.95zM264.24,451.2h1.95v-0.8h-1.95zM267.11,451.2h1.95v-0.5h-1.95zM269.97,451.2h1.95v-0.9h-1.95zM272.84,451.2h1.95v-0.5h-1.95zM275.71,451.2h1.95v-0.9h-1.95zM278.58,451.2h1.95v-0.7h-1.95zM281.45,451.2h1.95v-0.9h-1.95zM284.32,451.2h1.95v-0.8h-1.95zM287.19,451.2h1.95v-0.7h-1.95zM290.06,451.2h1.95v-0.7h-1.95zM292.93,451.2h1.95v-0.9h-1.95zM295.80,451.2h1.95v-0.6h-1.95zM298.67,451.2h1.95v-0.4h-1.95zM301.54,451.2h1.95v-0.9h-1.95zM304.41,451.2h1.95v-0.8h-1.95zM307.27,451.2h1.95v-0.8h-1.95zM310.14,451.2h1.95v-0.8h-1.95zM313.01,451.2h1.95v-0.5h-1.95zM315.88,451.2h1.95v-0.6h-1.95zM318.75,451.2h1.95v-0.8h-1.95zM321.62,451.2h1.95v-0.9h-1.95zM324.49,451.2h1.95v-0.9h-1.95zM327.36,451.2h1.95v-0.4h-1.95zM330.23,451.2h1.95v-0.8h-1.95zM333.10,451.2h1.95v-0.7h-1.95zM335.97,451.2h1.95v-0.6h-1.95zM338.84,451.2h1.95v-0.4h-1.95zM341.71,451.2h1.95v-0.4h-1.95zM344.57,451.2h1.95v-0.6h-1.95zM347.44,451.2h1.95v-0.6h-1.95zM350.31,451.2h1.95v-0.5h-1.95zM353.18,451.2h1.95v-0.6h-1.95zM356.05,451.2h1.95v-0.7h-1.95zM358.92,451.2h1.95v-0.8h-1.95zM361.79,451.2h1.95v-0.7h-1.95zM364.66,451.2h1.95v-0.4h-1.95zM367.53,451.2h1.95v-0.9h-1.95zM370.40,451.2h1.95v-0.6h-1.95zM373.27,451.2h1.95v-0.9h-1.95zM376.14,451.2h1.95v-0.9h-1.95zM379.01,451.2h1.95v-0.4h-1.95zM381.87,451.2h1.95v-0.7h-1.95zM384.74,451.2h1.95v-0.9h-1.95zM387.61,451.2h1.95v-0.6h-1.95zM390.48,451.2h1.95v-0.7h-1.95zM393.35,451.2h1.95v-0.5h-1.95zM396.22,451.2h1.95v-0.3h-1.95zM399.09,451.2h1.95v-0.5h-1.95zM401.95,451.2h1.93v-0.4h-1.93zM404.79,451.2h1.93v-0.5h-1.93zM407.62,451.2h1.93v-0.7h-1.93zM410.45,451.2h1.93v-0.7h-1.93zM413.29,451.2h1.93v-0.9h-1.93zM416.12,451.2h1.93v-0.8h-1.93zM418.97,451.2h2.00v-0.6h-2.00zM421.91,451.2h2.00v-0.9h-2.00zM424.85,451.2h2.00v-0.7h-2.00zM427.79,451.2h2.00v-0.7h-2.00zM430.74,451.2h2.00v-0.9h-2.00zM433.68,451.2h2.00v-0.7h-2.00zM436.62,451.2h2.00v-0.6h-2.00zM439.56,451.2h2.00v-0.7h-2.00zM442.50,451.2h2.00v-0.5h-2.00zM445.44,451.2h2.00v-0.9h-2.00zM448.38,451.2h2.00v-0.5h-2.00zM451.32,451.2h2.00v-0.9h-2.00zM454.26,451.2h2.00v-0.4h-2.00zM457.21,451.2h2.00v-0.3h-2.00zM460.15,451.2h2.00v-0.7h-2.00zM463.09,451.2h2.00v-0.5h-2.00zM466.03,451.2h2.00v-0.6h-2.00zM468.96,451.2h1.94v-0.4h-1.94zM471.81,451.2h1.94v-0.9h-1.94zM474.66,451.2h1.94v-0.7h-1.94zM477.52,451.2h1.94v-0.8h-1.94zM480.37,451.2h1.94v-0.9h-1.94zM483.22,451.2h1.94v-1.0h-1.94zM486.07,451.2h1.94v-0.8h-1.94zM488.93,451.2h1.94v-0.8h-1.94zM491.78,451.2h1.94v-0.3h-1.94zM494.63,451.2h1.94v-0.4h-1.94zM497.49,451.2h1.94v-0.6h-1.94zM500.34,451.2h1.94v-0.9h-1.94zM503.19,451.2h1.94v-0.5h-1.94zM506.04,451.2h1.94v-0.7h-1.94zM508.90,451.2h1.94v-0.3h-1.94zM511.75,451.2h1.94v-0.6h-1.94zM514.60,451.2h1.94v-0.9h-1.94zM49.45,451.2h2.10v-12.0h-2.10zM55.20,451.2h2.10v-5.8h-2.10zM57.95,451.2h2.10v-5.8h-2.10zM62.70,451.2h2.10v-1.0h-2.10zM85.20,451.2h2.10v-2.0h-2.10zM98.45,451.2h2.10v-2.5h-2.10zM100.20,451.2h2.10v-1.5h-2.10zM180.95,451.2h2.10v-7.8h-2.10zM183.95,451.2h2.10v-4.5h-2.10zM186.95,451.2h2.10v-14.5h-2.10zM189.95,451.2h2.10v-17.0h-2.10zM192.95,451.2h2.10v-4.5h-2.10zM195.95,451.2h2.10v-10.8h-2.10zM198.95,451.2h2.10v-7.0h-2.10zM202.70,451.2h2.10v-12.0h-2.10zM205.95,451.2h2.10v-13.2h-2.10zM208.95,451.2h2.10v-13.8h-2.10zM211.95,451.2h2.10v-14.5h-2.10zM214.70,451.2h2.10v-9.5h-2.10zM217.70,451.2h2.10v-4.5h-2.10zM220.20,451.2h2.10v-10.2h-2.10zM222.70,451.2h2.10v-12.8h-2.10zM225.95,451.2h2.10v-8.8h-2.10zM228.95,451.2h2.10v-5.8h-2.10zM231.45,451.2h2.10v-9.5h-2.10zM234.70,451.2h2.10v-22.0h-2.10zM237.70,451.2h2.10v-17.0h-2.10zM240.95,451.2h2.10v-16.2h-2.10zM243.95,451.2h2.10v-10.8h-2.10zM246.95,451.2h2.10v-10.8h-2.10zM249.45,451.2h2.10v-9.5h-2.10z" fill="#000"/>
<path d="M48.47,477.3h2.00v-0.7h-2.00zM51.40,477.3h2.00v-0.8h-2.00zM57.27,477.3h2.00v-0.4h-2.00zM60.21,477.3h2.00v-0.4h-2.00zM66.07,477.3h2.00v-0.3h-2.00zM71.94,477.3h2.00v-0.4h-2.00zM83.68,477.3h2.00v-0.9h-2.00zM89.55,477.3h2.00v-0.7h-2.00zM95.42,477.3h2.00v-0.8h-2.00zM101.29,477.3h2.00v-0.3h-2.00zM104.21,477.3h1.96v-0.8h-1.96zM109.97,477.3h1.96v-0.3h-1.96zM112.85,477.3h1.96v-0.5h-1.96zM115.73,477.3h1.96v-0.7h-1.96zM118.61,477.3h1.96v-0.9h-1.96zM121.49,477.3h1.96v-1.0h-1.96zM127.25,477.3h1.96v-0.7h-1.96zM130.13,477.3h1.96v-0.7h-1.96zM133.01,477.3h1.96v-0.4h-1.96zM135.89,477.3h1.96v-0.8h-1.96zM138.77,477.3h1.96v-0.6h-1.96zM147.41,477.3h1.96v-0.4h-1.96zM150.28,477.3h1.96v-0.3h-1.96zM153.16,477.3h1.96v-0.4h-1.96zM156.04,477.3h1.96v-0.3h-1.96zM158.92,477.3h1.96v-0.7h-1.96zM161.80,477.3h1.96v-0.8h-1.96zM164.68,477.3h1.96v-0.4h-1.96zM167.56,477.3h1.96v-0.6h-1.96zM170.44,477.3h1.96v-0.7h-1.96zM173.32,477.3h1.96v-0.6h-1.96zM176.20,477.3h1.96v-0.5h-1.96zM179.08,477.3h1.96v-0.6h-1.96zM187.87,477.3h2.01v-0.5h-2.01zM190.82,477.3h2.01v-0.4h-2.01zM193.77,477.3h2.01v-0.8h-2.01zM196.72,477.3h2.01v-0.4h-2.01zM199.67,477.3h2.01v-0.8h-2.01zM202.62,477.3h2.01v-0.4h-2.01zM205.57,477.3h2.01v-0.3h-2.01zM208.52,477.3h2.01v-0.6h-2.01zM211.47,477.3h2.01v-0.5h-2.01zM214.42,477.3h2.01v-0.5h-2.01zM217.37,477.3h2.01v-0.8h-2.01zM220.32,477.3h2.01v-0.4h-2.01zM223.27,477.3h2.01v-0.7h-2.01zM226.22,477.3h2.01v-0.8h-2.01zM229.17,477.3h2.01v-0.6h-2.01zM232.12,477.3h2.01v-0.6h-2.01zM238.02,477.3h2.01v-0.7h-2.01zM240.97,477.3h2.01v-0.4h-2.01zM249.82,477.3h2.01v-0.5h-2.01zM272.84,477.3h1.95v-0.4h-1.95zM275.71,477.3h1.95v-0.5h-1.95zM278.58,477.3h1.95v-0.5h-1.95zM284.32,477.3h1.95v-0.7h-1.95zM290.06,477.3h1.95v-0.4h-1.95zM304.41,477.3h1.95v-0.4h-1.95zM307.27,477.3h1.95v-0.7h-1.95zM313.01,477.3h1.95v-0.6h-1.95zM321.62,477.3h1.95v-0.8h-1.95zM324.49,477.3h1.95v-0.8h-1.95zM327.36,477.3h1.95v-0.6h-1.95zM330.23,477.3h1.95v-0.4h-1.95zM341.71,477.3h1.95v-0.3h-1.95zM356.05,477.3h1.95v-0.4h-1.95zM358.92,477.3h1.95v-0.3h-1.95zM361.79,477.3h1.95v-0.7h-1.95zM367.53,477.3h1.95v-0.5h-1.95zM370.40,477.3h1.95v-0.4h-1.95zM373.27,477.3h1.95v-0.7h-1.95zM463.09,477.3h2.00v-0.3h-2.00zM466.03,477.3h2.00v-0.5h-2.00zM471.81,477.3h1.94v-0.7h-1.94zM474.66,477.3h1.94v-0.8h-1.94zM477.52,477.3h1.94v-0.5h-1.94zM480.37,477.3h1.94v-0.7h-1.94zM483.22,477.3h1.94v-0.5h-1.94zM486.07,477.3h1.94v-0.8h-1.94zM494.63,477.3h1.94v-0.6h-1.94zM500.34,477.3h1.94v-0.3h-1.94zM503.19,477.3h1.94v-0.8h-1.94zM506.04,477.3h1.94v-0.9h-1.94zM508.90,477.3h1.94v-0.7h-1.94zM511.75,477.3h1.94v-0.4h-1.94zM514.60,477.3h1.94v-0.9h-1.94zM62.70,477.3h2.10v-1.5h-2.10zM68.95,477.3h2.10v-1.5h-2.10zM73.95,477.3h2.10v-2.5h-2.10zM77.20,477.3h2.10v-6.2h-2.10zM80.20,477.3h2.10v-1.5h-2.10zM86.45,477.3h2.10v-1.5h-2.10zM92.70,477.3h2.10v-2.0h-2.10zM98.45,477.3h2.10v-9.5h-2.10zM107.70,477.3h2.10v-2.5h-2.10zM124.45,477.3h2.10v-1.5h-2.10zM142.70,477.3h2.10v-1.5h-2.10zM145.20,477.3h2.10v-1.5h-2.10zM234.45,477.3h2.10v-1.0h-2.10zM252.70,477.3h2.10v-1.5h-2.10zM255.20,477.3h2.10v-1.5h-2.10zM258.45,477.3h2.10v-4.0h-2.10zM261.45,477.3h2.10v-2.0h-2.10zM263.95,477.3h2.10v-2.0h-2.10zM267.70,477.3h2.10v-2.0h-2.10zM270.20,477.3h2.10v-2.0h-2.10zM281.45,477.3h2.10v-1.0h-2.10zM286.45,477.3h2.10v-1.0h-2.10zM292.70,477.3h2.10v-1.5h-2.10zM296.45,477.3h2.10v-2.0h-2.10zM297.70,477.3h2.10v-1.5h-2.10zM301.45,477.3h2.10v-2.0h-2.10zM315.20,477.3h2.10v-3.0h-2.10zM317.70,477.3h2.10v-3.0h-2.10zM332.70,477.3h2.10v-2.5h-2.10zM335.20,477.3h2.10v-3.0h-2.10zM338.45,477.3h2.10v-3.5h-2.10zM346.45,477.3h2.10v-1.5h-2.10zM351.45,477.3h2.10v-2.5h-2.10zM353.95,477.3h2.10v-2.5h-2.10zM363.95,477.3h2.10v-1.5h-2.10zM376.45,477.3h2.10v-1.5h-2.10zM380.20,477.3h2.10v-1.5h-2.10zM383.95,477.3h2.10v-2.0h-2.10zM386.95,477.3h2.10v-4.0h-2.10zM390.20,477.3h2.10v-1.0h-2.10zM395.20,477.3h2.10v-2.0h-2.10zM397.70,477.3h2.10v-7.0h-2.10zM400.95,477.3h2.10v-15.8h-2.10zM403.95,477.3h2.10v-13.2h-2.10zM406.95,477.3h2.10v-11.2h-2.10zM409.70,477.3h2.10v-10.0h-2.10zM412.70,477.3h2.10v-7.5h-2.10zM415.70,477.3h2.10v-6.5h-2.10zM419.45,477.3h2.10v-19.9h-2.10zM422.35,477.3h2.10v-17.3h-2.10zM425.15,477.3h2.10v-15.0h-2.10zM427.85,477.3h2.10v-14.4h-2.10zM430.75,477.3h2.10v-13.5h-2.10zM433.55,477.3h2.10v-12.8h-2.10zM436.65,477.3h2.10v-11.7h-2.10zM439.35,477.3h2.10v-8.0h-2.10zM442.25,477.3h2.10v-7.3h-2.10zM445.15,477.3h2.10v-6.2h-2.10zM448.15,477.3h2.10v-4.4h-2.10zM451.05,477.3h2.10v-4.0h-2.10zM453.95,477.3h2.10v-4.0h-2.10zM456.65,477.3h2.10v-2.9h-2.10zM459.25,477.3h2.10v-1.8h-2.10zM490.25,477.3h2.10v-1.5h-2.10z" fill="#000"/>
<path d="M74.88,506.2h2.00v-0.7h-2.00zM77.81,506.2h2.00v-1.1h-2.00zM92.48,506.2h2.00v-0.9h-2.00zM107.09,506.2h1.96v-0.8h-1.96zM118.61,506.2h1.96v-0.9h-1.96zM124.37,506.2h1.96v-0.7h-1.96zM176.20,506.2h1.96v-0.9h-1.96zM179.08,506.2h1.96v-1.0h-1.96zM181.97,506.2h2.01v-0.8h-2.01zM193.77,506.2h2.01v-0.7h-2.01zM252.76,506.2h1.95v-1.0h-1.95zM258.50,506.2h1.95v-0.7h-1.95zM261.37,506.2h1.95v-0.5h-1.95zM264.24,506.2h1.95v-1.0h-1.95zM267.11,506.2h1.95v-1.0h-1.95zM269.97,506.2h1.95v-0.8h-1.95zM287.19,506.2h1.95v-1.0h-1.95zM290.06,506.2h1.95v-1.0h-1.95zM295.80,506.2h1.95v-0.7h-1.95zM298.67,506.2h1.95v-0.7h-1.95zM301.54,506.2h1.95v-1.1h-1.95zM304.41,506.2h1.95v-0.6h-1.95zM307.27,506.2h1.95v-0.6h-1.95zM310.14,506.2h1.95v-0.7h-1.95zM313.01,506.2h1.95v-1.1h-1.95zM315.88,506.2h1.95v-1.0h-1.95zM318.75,506.2h1.95v-0.7h-1.95zM321.62,506.2h1.95v-1.0h-1.95zM330.23,506.2h1.95v-0.6h-1.95zM333.10,506.2h1.95v-1.0h-1.95zM335.97,506.2h1.95v-0.7h-1.95zM338.84,506.2h1.95v-0.6h-1.95zM341.71,506.2h1.95v-1.1h-1.95zM344.57,506.2h1.95v-0.8h-1.95zM347.44,506.2h1.95v-0.7h-1.95zM350.31,506.2h1.95v-0.9h-1.95zM353.18,506.2h1.95v-0.6h-1.95zM356.05,506.2h1.95v-0.5h-1.95zM358.92,506.2h1.95v-0.7h-1.95zM361.79,506.2h1.95v-0.7h-1.95zM364.66,506.2h1.95v-0.5h-1.95zM367.53,506.2h1.95v-0.7h-1.95zM370.40,506.2h1.95v-1.0h-1.95zM373.27,506.2h1.95v-0.7h-1.95zM376.14,506.2h1.95v-0.9h-1.95zM379.01,506.2h1.95v-0.9h-1.95zM381.87,506.2h1.95v-0.6h-1.95zM384.74,506.2h1.95v-0.5h-1.95zM387.61,506.2h1.95v-0.9h-1.95zM396.22,506.2h1.95v-0.6h-1.95zM399.09,506.2h1.95v-1.0h-1.95zM401.95,506.2h1.93v-1.1h-1.93zM404.79,506.2h1.93v-0.6h-1.93zM407.62,506.2h1.93v-0.9h-1.93zM410.45,506.2h1.93v-0.8h-1.93zM413.29,506.2h1.93v-0.7h-1.93zM416.12,506.2h1.93v-0.5h-1.93zM418.97,506.2h2.00v-0.7h-2.00zM421.91,506.2h2.00v-0.9h-2.00zM424.85,506.2h2.00v-0.9h-2.00zM427.79,506.2h2.00v-0.8h-2.00zM430.74,506.2h2.00v-0.6h-2.00zM433.68,506.2h2.00v-0.6h-2.00zM436.62,506.2h2.00v-0.7h-2.00zM439.56,506.2h2.00v-0.7h-2.00zM445.44,506.2h2.00v-1.1h-2.00zM448.38,506.2h2.00v-0.6h-2.00zM451.32,506.2h2.00v-1.1h-2.00zM454.26,506.2h2.00v-0.6h-2.00zM457.21,506.2h2.00v-1.0h-2.00zM466.03,506.2h2.00v-0.7h-2.00zM46.95,506.2h2.10v-6.5h-2.10zM49.45,506.2h2.10v-4.5h-2.10zM52.70,506.2h2.10v-4.5h-2.10zM55.20,506.2h2.10v-4.5h-2.10zM57.70,506.2h2.10v-3.0h-2.10zM61.45,506.2h2.10v-3.5h-2.10zM65.20,506.2h2.10v-2.5h-2.10zM67.70,506.2h2.10v-1.5h-2.10zM71.45,506.2h2.10v-0.5h-2.10zM81.45,506.2h2.10v-1.0h-2.10zM83.95,506.2h2.10v-3.0h-2.10zM86.45,506.2h2.10v-2.5h-2.10zM90.20,506.2h2.10v-1.0h-2.10zM96.45,506.2h2.10v-1.0h-2.10zM100.95,506.2h2.10v-7.8h-2.10zM103.45,506.2h2.10v-4.0h-2.10zM111.45,506.2h2.10v-1.5h-2.10zM113.95,506.2h2.10v-2.0h-2.10zM116.45,506.2h2.10v-2.0h-2.10zM121.45,506.2h2.10v-2.5h-2.10zM126.45,506.2h2.10v-3.5h-2.10zM130.20,506.2h2.10v-4.5h-2.10zM133.45,506.2h2.10v-4.0h-2.10zM135.95,506.2h2.10v-2.5h-2.10zM138.95,506.2h2.10v-6.5h-2.10zM142.20,506.2h2.10v-3.0h-2.10zM145.95,506.2h2.10v-3.5h-2.10zM148.95,506.2h2.10v-3.0h-2.10zM151.45,506.2h2.10v-3.0h-2.10zM153.95,506.2h2.10v-2.0h-2.10zM157.70,506.2h2.10v-1.5h-2.10zM161.45,506.2h2.10v-2.0h-2.10zM165.20,506.2h2.10v-2.0h-2.10zM167.70,506.2h2.10v-3.0h-2.10zM171.45,506.2h2.10v-1.0h-2.10zM185.20,506.2h2.10v-4.5h-2.10zM187.70,506.2h2.10v-4.5h-2.10zM191.45,506.2h2.10v-3.0h-2.10zM197.70,506.2h2.10v-2.0h-2.10zM201.45,506.2h2.10v-2.0h-2.10zM205.20,506.2h2.10v-2.0h-2.10zM208.95,506.2h2.10v-2.5h-2.10zM211.45,506.2h2.10v-3.0h-2.10zM215.20,506.2h2.10v-5.0h-2.10zM218.95,506.2h2.10v-1.0h-2.10zM224.45,506.2h2.10v-5.0h-2.10zM227.70,506.2h2.10v-2.5h-2.10zM230.95,506.2h2.10v-2.5h-2.10zM233.95,506.2h2.10v-2.0h-2.10zM236.95,506.2h2.10v-3.0h-2.10zM240.20,506.2h2.10v-4.5h-2.10zM242.70,506.2h2.10v-3.0h-2.10zM245.95,506.2h2.10v-4.0h-2.10zM248.45,506.2h2.10v-2.0h-2.10zM255.20,506.2h2.10v-1.0h-2.10zM272.70,506.2h2.10v-2.5h-2.10zM275.20,506.2h2.10v-2.0h-2.10zM278.95,506.2h2.10v-3.2h-2.10zM282.70,506.2h2.10v-1.0h-2.10zM292.70,506.2h2.10v-2.0h-2.10zM325.95,506.2h2.10v-2.0h-2.10zM391.45,506.2h2.10v-1.5h-2.10zM441.55,506.2h2.10v-2.0h-2.10zM460.35,506.2h2.10v-8.2h-2.10zM463.25,506.2h2.10v-2.0h-2.10zM468.55,506.2h2.10v-4.4h-2.10zM471.45,506.2h2.10v-13.3h-2.10zM474.35,506.2h2.10v-15.0h-2.10zM476.95,506.2h2.10v-3.0h-2.10zM480.25,506.2h2.10v-17.3h-2.10zM482.45,506.2h2.10v-6.6h-2.10zM486.25,506.2h2.10v-16.2h-2.10zM489.15,506.2h2.10v-14.8h-2.10zM492.45,506.2h2.10v-7.7h-2.10zM495.55,506.2h2.10v-22.1h-2.10zM498.65,506.2h2.10v-1.5h-2.10zM501.25,506.2h2.10v-8.8h-2.10zM504.15,506.2h2.10v-3.8h-2.10zM507.05,506.2h2.10v-8.2h-2.10zM509.75,506.2h2.10v-15.0h-2.10zM512.75,506.2h2.10v-15.0h-2.10z" fill="#000"/>
<path d="M124.37,533.6h1.96v-0.7h-1.96zM156.04,533.6h1.96v-0.9h-1.96zM211.47,533.6h2.01v-0.9h-2.01zM252.76,533.6h1.95v-0.7h-1.95zM258.50,533.6h1.95v-0.7h-1.95zM301.54,533.6h1.95v-0.8h-1.95zM307.27,533.6h1.95v-0.7h-1.95zM310.14,533.6h1.95v-0.9h-1.95zM313.01,533.6h1.95v-0.9h-1.95zM318.75,533.6h1.95v-0.5h-1.95zM327.36,533.6h1.95v-0.9h-1.95zM333.10,533.6h1.95v-0.8h-1.95zM350.31,533.6h1.95v-0.4h-1.95zM353.18,533.6h1.95v-0.9h-1.95zM356.05,533.6h1.95v-0.6h-1.95zM361.79,533.6h1.95v-0.8h-1.95zM367.53,533.6h1.95v-0.9h-1.95zM370.40,533.6h1.95v-0.5h-1.95zM373.27,533.6h1.95v-0.9h-1.95zM376.14,533.6h1.95v-0.6h-1.95zM379.01,533.6h1.95v-0.4h-1.95zM381.87,533.6h1.95v-0.6h-1.95zM384.74,533.6h1.95v-0.4h-1.95zM387.61,533.6h1.95v-0.4h-1.95zM390.48,533.6h1.95v-0.7h-1.95zM416.12,533.6h1.93v-0.6h-1.93zM427.79,533.6h2.00v-0.9h-2.00zM436.62,533.6h2.00v-0.5h-2.00zM445.44,533.6h2.00v-0.7h-2.00zM448.38,533.6h2.00v-0.9h-2.00zM451.32,533.6h2.00v-0.5h-2.00zM457.21,533.6h2.00v-0.7h-2.00zM463.09,533.6h2.00v-0.7h-2.00zM468.96,533.6h1.94v-0.9h-1.94zM477.52,533.6h1.94v-0.9h-1.94zM48.95,533.6h2.10v-2.0h-2.10zM52.70,533.6h2.10v-1.5h-2.10zM55.95,533.6h2.10v-1.5h-2.10zM59.45,533.6h2.10v-3.0h-2.10zM62.70,533.6h2.10v-1.0h-2.10zM66.45,533.6h2.10v-1.0h-2.10zM70.20,533.6h2.10v-1.0h-2.10zM73.45,533.6h2.10v-1.0h-2.10zM77.20,533.6h2.10v-3.8h-2.10zM80.20,533.6h2.10v-1.0h-2.10zM83.45,533.6h2.10v-3.0h-2.10zM86.95,533.6h2.10v-1.0h-2.10zM90.20,533.6h2.10v-1.0h-2.10zM93.95,533.6h2.10v-1.5h-2.10zM97.70,533.6h2.10v-2.0h-2.10zM101.45,533.6h2.10v-4.2h-2.10zM103.95,533.6h2.10v-4.0h-2.10zM107.70,533.6h2.10v-2.0h-2.10zM110.95,533.6h2.10v-1.5h-2.10zM114.45,533.6h2.10v-2.0h-2.10zM118.20,533.6h2.10v-9.2h-2.10zM121.45,533.6h2.10v-1.0h-2.10zM127.20,533.6h2.10v-5.0h-2.10zM130.20,533.6h2.10v-4.5h-2.10zM132.70,533.6h2.10v-2.0h-2.10zM136.45,533.6h2.10v-1.0h-2.10zM139.70,533.6h2.10v-8.0h-2.10zM142.70,533.6h2.10v-2.0h-2.10zM146.45,533.6h2.10v-1.5h-2.10zM150.95,533.6h2.10v-2.5h-2.10zM153.95,533.6h2.10v-1.5h-2.10zM159.45,533.6h2.10v-6.2h-2.10zM162.70,533.6h2.10v-1.0h-2.10zM166.45,533.6h2.10v-2.0h-2.10zM170.20,533.6h2.10v-4.2h-2.10zM175.20,533.6h2.10v-5.5h-2.10zM178.20,533.6h2.10v-5.5h-2.10zM182.70,533.6h2.10v-1.0h-2.10zM186.45,533.6h2.10v-1.5h-2.10zM189.70,533.6h2.10v-3.0h-2.10zM192.70,533.6h2.10v-3.0h-2.10zM195.95,533.6h2.10v-1.0h-2.10zM198.95,533.6h2.10v-4.2h-2.10zM202.70,533.6h2.10v-1.0h-2.10zM205.95,533.6h2.10v-1.0h-2.10zM208.95,533.6h2.10v-1.5h-2.10zM215.20,533.6h2.10v-1.0h-2.10zM218.95,533.6h2.10v-1.0h-2.10zM221.95,533.6h2.10v-1.5h-2.10zM225.20,533.6h2.10v-2.0h-2.10zM228.95,533.6h2.10v-1.0h-2.10zM231.45,533.6h2.10v-3.5h-2.10zM234.45,533.6h2.10v-3.0h-2.10zM237.70,533.6h2.10v-3.0h-2.10zM241.45,533.6h2.10v-2.0h-2.10zM245.20,533.6h2.10v-2.0h-2.10zM248.45,533.6h2.10v-1.0h-2.10zM255.20,533.6h2.10v-1.0h-2.10zM261.45,533.6h2.10v-2.0h-2.10zM265.20,533.6h2.10v-1.0h-2.10zM268.95,533.6h2.10v-2.5h-2.10zM271.45,533.6h2.10v-2.5h-2.10zM275.20,533.6h2.10v-1.0h-2.10zM278.95,533.6h2.10v-3.0h-2.10zM282.70,533.6h2.10v-1.0h-2.10zM286.45,533.6h2.10v-1.5h-2.10zM288.95,533.6h2.10v-2.5h-2.10zM291.95,533.6h2.10v-2.5h-2.10zM295.20,533.6h2.10v-2.5h-2.10zM297.70,533.6h2.10v-3.0h-2.10zM298.95,533.6h2.10v-2.5h-2.10zM305.20,533.6h2.10v-1.0h-2.10zM315.20,533.6h2.10v-1.5h-2.10zM320.95,533.6h2.10v-2.5h-2.10zM323.95,533.6h2.10v-3.0h-2.10zM330.20,533.6h2.10v-1.5h-2.10zM337.70,533.6h2.10v-6.8h-2.10zM340.95,533.6h2.10v-2.0h-2.10zM343.95,533.6h2.10v-1.5h-2.10zM347.70,533.6h2.10v-2.0h-2.10zM359.45,533.6h2.10v-23.0h-2.10zM365.20,533.6h2.10v-1.0h-2.10zM392.70,533.6h2.10v-1.5h-2.10zM397.70,533.6h2.10v-1.0h-2.10zM400.95,533.6h2.10v-2.0h-2.10zM403.95,533.6h2.10v-3.0h-2.10zM406.45,533.6h2.10v-6.8h-2.10zM409.45,533.6h2.10v-5.0h-2.10zM412.70,533.6h2.10v-2.5h-2.10zM420.20,533.6h2.10v-1.0h-2.10zM421.65,533.6h2.10v-1.5h-2.10zM424.95,533.6h2.10v-1.5h-2.10zM430.45,533.6h2.10v-3.0h-2.10zM433.85,533.6h2.10v-1.0h-2.10zM439.35,533.6h2.10v-1.5h-2.10zM442.65,533.6h2.10v-1.0h-2.10zM454.85,533.6h2.10v-2.0h-2.10zM459.25,533.6h2.10v-2.5h-2.10zM465.95,533.6h2.10v-4.9h-2.10zM471.45,533.6h2.10v-2.5h-2.10zM474.75,533.6h2.10v-4.9h-2.10zM480.25,533.6h2.10v-4.9h-2.10zM483.55,533.6h2.10v-2.0h-2.10zM487.95,533.6h2.10v-2.0h-2.10zM493.55,533.6h2.10v-2.5h-2.10zM499.05,533.6h2.10v-4.9h-2.10zM502.45,533.6h2.10v-3.0h-2.10zM507.95,533.6h2.10v-2.5h-2.10zM513.45,533.6h2.10v-7.7h-2.10z" fill="#000"/>
<path d="M74.88,562.5h2.00v-0.3h-2.00zM101.29,562.5h2.00v-0.4h-2.00zM104.21,562.5h1.96v-0.3h-1.96zM147.41,562.5h1.96v-0.6h-1.96zM164.68,562.5h1.96v-0.6h-1.96zM176.20,562.5h1.96v-0.3h-1.96zM184.92,562.5h2.01v-0.6h-2.01zM196.72,562.5h2.01v-0.4h-2.01zM202.62,562.5h2.01v-0.3h-2.01zM205.57,562.5h2.01v-0.3h-2.01zM211.47,562.5h2.01v-0.3h-2.01zM214.42,562.5h2.01v-0.5h-2.01zM220.32,562.5h2.01v-0.6h-2.01zM240.97,562.5h2.01v-0.5h-2.01zM246.87,562.5h2.01v-0.5h-2.01zM401.95,562.5h1.93v-0.4h-1.93zM439.56,562.5h2.00v-0.4h-2.00zM468.96,562.5h1.94v-0.4h-1.94zM480.37,562.5h1.94v-0.4h-1.94zM488.93,562.5h1.94v-0.4h-1.94zM494.63,562.5h1.94v-0.5h-1.94zM500.34,562.5h1.94v-0.3h-1.94zM514.60,562.5h1.94v-0.6h-1.94zM47.70,562.5h2.10v-2.5h-2.10zM52.70,562.5h2.10v-14.5h-2.10zM55.95,562.5h2.10v-4.0h-2.10zM58.95,562.5h2.10v-1.0h-2.10zM65.20,562.5h2.10v-1.5h-2.10zM68.20,562.5h2.10v-1.0h-2.10zM71.45,562.5h2.10v-1.5h-2.10zM79.70,562.5h2.10v-12.8h-2.10zM82.70,562.5h2.10v-4.0h-2.10zM85.20,562.5h2.10v-2.0h-2.10zM88.45,562.5h2.10v-17.0h-2.10zM91.45,562.5h2.10v-18.2h-2.10zM94.70,562.5h2.10v-5.0h-2.10zM98.45,562.5h2.10v-8.2h-2.10zM106.95,562.5h2.10v-2.0h-2.10zM110.20,562.5h2.10v-1.0h-2.10zM113.95,562.5h2.10v-0.5h-2.10zM120.95,562.5h2.10v-8.2h-2.10zM127.20,562.5h2.10v-5.0h-2.10zM130.95,562.5h2.10v-10.0h-2.10zM133.95,562.5h2.10v-15.0h-2.10zM137.20,562.5h2.10v-2.5h-2.10zM140.20,562.5h2.10v-2.5h-2.10zM150.20,562.5h2.10v-1.0h-2.10zM153.95,562.5h2.10v-10.2h-2.10zM157.20,562.5h2.10v-10.2h-2.10zM160.20,562.5h2.10v-2.5h-2.10zM168.95,562.5h2.10v-1.0h-2.10zM172.70,562.5h2.10v-1.0h-2.10zM227.70,562.5h2.10v-1.0h-2.10zM230.95,562.5h2.10v-10.0h-2.10zM234.45,562.5h2.10v-1.0h-2.10zM237.70,562.5h2.10v-14.0h-2.10zM248.95,562.5h2.10v-4.0h-2.10zM252.70,562.5h2.10v-1.0h-2.10zM255.20,562.5h2.10v-6.5h-2.10zM257.70,562.5h2.10v-9.5h-2.10zM260.95,562.5h2.10v-9.5h-2.10zM263.95,562.5h2.10v-11.2h-2.10zM266.45,562.5h2.10v-2.5h-2.10zM269.70,562.5h2.10v-15.8h-2.10zM272.70,562.5h2.10v-10.0h-2.10zM275.95,562.5h2.10v-10.2h-2.10zM278.95,562.5h2.10v-2.0h-2.10zM282.20,562.5h2.10v-8.8h-2.10zM285.20,562.5h2.10v-20.8h-2.10zM288.20,562.5h2.10v-12.5h-2.10zM291.45,562.5h2.10v-1.5h-2.10zM294.70,562.5h2.10v-2.0h-2.10zM297.20,562.5h2.10v-5.0h-2.10zM296.45,562.5h2.10v-2.5h-2.10zM301.45,562.5h2.10v-15.8h-2.10zM305.20,562.5h2.10v-20.0h-2.10zM308.45,562.5h2.10v-4.0h-2.10zM311.45,562.5h2.10v-3.0h-2.10zM315.20,562.5h2.10v-7.0h-2.10zM318.20,562.5h2.10v-17.0h-2.10zM320.70,562.5h2.10v-10.8h-2.10zM323.95,562.5h2.10v-11.5h-2.10zM327.20,562.5h2.10v-1.0h-2.10zM330.20,562.5h2.10v-8.8h-2.10zM332.70,562.5h2.10v-5.0h-2.10zM335.20,562.5h2.10v-14.0h-2.10zM338.45,562.5h2.10v-5.0h-2.10zM340.95,562.5h2.10v-9.5h-2.10zM343.95,562.5h2.10v-13.8h-2.10zM346.45,562.5h2.10v-13.8h-2.10zM348.95,562.5h2.10v-5.0h-2.10zM353.95,562.5h2.10v-12.0h-2.10zM356.95,562.5h2.10v-12.0h-2.10zM359.45,562.5h2.10v-12.5h-2.10zM361.95,562.5h2.10v-5.0h-2.10zM365.20,562.5h2.10v-17.0h-2.10zM368.20,562.5h2.10v-8.2h-2.10zM370.95,562.5h2.10v-5.0h-2.10zM373.95,562.5h2.10v-2.0h-2.10zM380.20,562.5h2.10v-12.8h-2.10zM382.70,562.5h2.10v-12.8h-2.10zM386.45,562.5h2.10v-10.0h-2.10zM388.95,562.5h2.10v-5.0h-2.10zM392.20,562.5h2.10v-10.0h-2.10zM395.20,562.5h2.10v-1.0h-2.10zM397.70,562.5h2.10v-9.5h-2.10zM403.95,562.5h2.10v-1.0h-2.10zM406.15,562.5h2.10v-4.9h-2.10zM409.45,562.5h2.10v-2.0h-2.10zM412.35,562.5h2.10v-7.7h-2.10zM414.95,562.5h2.10v-7.7h-2.10zM419.45,562.5h2.10v-1.5h-2.10zM421.65,562.5h2.10v-5.5h-2.10zM424.95,562.5h2.10v-16.6h-2.10zM428.25,562.5h2.10v-1.0h-2.10zM430.45,562.5h2.10v-1.5h-2.10zM433.35,562.5h2.10v-5.5h-2.10zM436.65,562.5h2.10v-1.5h-2.10zM441.95,562.5h2.10v-3.0h-2.10zM444.85,562.5h2.10v-3.0h-2.10zM450.45,562.5h2.10v-3.0h-2.10zM452.65,562.5h2.10v-3.0h-2.10zM455.25,562.5h2.10v-1.5h-2.10zM460.35,562.5h2.10v-17.5h-2.10zM463.25,562.5h2.10v-13.7h-2.10zM465.95,562.5h2.10v-10.8h-2.10zM471.45,562.5h2.10v-2.0h-2.10zM492.45,562.5h2.10v-5.5h-2.10zM504.65,562.5h2.10v-7.0h-2.10zM507.95,562.5h2.10v-1.0h-2.10z" fill="#000"/>
<path d="M252.76,590.7h1.95v-14.9h-1.95zM255.63,590.7h1.95v-13.8h-1.95zM258.50,590.7h1.95v-13.4h-1.95zM261.37,590.7h1.95v-13.2h-1.95zM264.24,590.7h1.95v-13.1h-1.95zM267.11,590.7h1.95v-11.5h-1.95zM269.97,590.7h1.95v-10.3h-1.95zM272.84,590.7h1.95v-10.3h-1.95zM275.71,590.7h1.95v-10.0h-1.95zM278.58,590.7h1.95v-9.8h-1.95zM281.45,590.7h1.95v-9.0h-1.95zM284.32,590.7h1.95v-8.4h-1.95zM287.19,590.7h1.95v-7.7h-1.95zM290.06,590.7h1.95v-7.2h-1.95zM292.93,590.7h1.95v-6.8h-1.95zM295.80,590.7h1.95v-6.5h-1.95zM298.67,590.7h1.95v-6.3h-1.95zM301.54,590.7h1.95v-6.2h-1.95zM304.41,590.7h1.95v-5.7h-1.95zM307.27,590.7h1.95v-5.4h-1.95zM310.14,590.7h1.95v-5.3h-1.95zM313.01,590.7h1.95v-5.2h-1.95zM315.88,590.7h1.95v-5.0h-1.95zM318.75,590.7h1.95v-4.9h-1.95zM321.62,590.7h1.95v-4.4h-1.95zM324.49,590.7h1.95v-4.2h-1.95zM327.36,590.7h1.95v-4.0h-1.95zM330.23,590.7h1.95v-4.0h-1.95zM333.10,590.7h1.95v-3.9h-1.95zM335.97,590.7h1.95v-3.9h-1.95zM338.84,590.7h1.95v-3.8h-1.95zM341.71,590.7h1.95v-3.8h-1.95zM344.57,590.7h1.95v-3.7h-1.95zM347.44,590.7h1.95v-3.7h-1.95zM350.31,590.7h1.95v-3.6h-1.95zM353.18,590.7h1.95v-3.6h-1.95zM356.05,590.7h1.95v-3.5h-1.95zM358.92,590.7h1.95v-3.5h-1.95zM361.79,590.7h1.95v-3.4h-1.95zM364.66,590.7h1.95v-3.4h-1.95zM367.53,590.7h1.95v-3.4h-1.95zM370.40,590.7h1.95v-3.3h-1.95zM373.27,590.7h1.95v-1.8h-1.95zM376.14,590.7h1.95v-1.7h-1.95zM379.01,590.7h1.95v-1.5h-1.95zM381.87,590.7h1.95v-1.4h-1.95zM384.74,590.7h1.95v-1.3h-1.95zM387.61,590.7h1.95v-1.1h-1.95zM390.48,590.7h1.95v-1.0h-1.95zM393.35,590.7h1.95v-0.9h-1.95zM396.22,590.7h1.95v-0.7h-1.95zM399.09,590.7h1.95v-0.6h-1.95zM77.81,590.7h2.00v-0.6h-2.00zM104.21,590.7h1.96v-0.5h-1.96zM141.65,590.7h1.96v-0.6h-1.96zM144.53,590.7h1.96v-0.6h-1.96zM167.56,590.7h1.96v-0.4h-1.96zM176.20,590.7h1.96v-0.6h-1.96zM184.92,590.7h2.01v-0.5h-2.01zM196.72,590.7h2.01v-0.3h-2.01zM217.37,590.7h2.01v-0.3h-2.01zM223.27,590.7h2.01v-0.5h-2.01zM235.07,590.7h2.01v-0.5h-2.01zM240.97,590.7h2.01v-0.5h-2.01zM246.87,590.7h2.01v-0.6h-2.01zM427.79,590.7h2.00v-0.5h-2.00zM436.62,590.7h2.00v-0.4h-2.00zM445.44,590.7h2.00v-0.6h-2.00zM454.26,590.7h2.00v-0.6h-2.00zM466.03,590.7h2.00v-0.5h-2.00zM468.96,590.7h1.94v-0.5h-1.94zM474.66,590.7h1.94v-0.5h-1.94zM477.52,590.7h1.94v-0.6h-1.94zM483.22,590.7h1.94v-0.5h-1.94zM486.07,590.7h1.94v-0.3h-1.94zM497.49,590.7h1.94v-0.5h-1.94zM500.34,590.7h1.94v-0.5h-1.94zM503.19,590.7h1.94v-0.4h-1.94zM511.75,590.7h1.94v-0.4h-1.94zM48.95,590.7h2.10v-4.0h-2.10zM52.70,590.7h2.10v-1.0h-2.10zM56.45,590.7h2.10v-1.0h-2.10zM59.70,590.7h2.10v-8.0h-2.10zM62.70,590.7h2.10v-7.0h-2.10zM67.70,590.7h2.10v-1.0h-2.10zM71.45,590.7h2.10v-5.5h-2.10zM73.95,590.7h2.10v-5.0h-2.10zM88.45,590.7h2.10v-23.2h-2.10zM95.20,590.7h2.10v-1.0h-2.10zM98.45,590.7h2.10v-1.0h-2.10zM112.70,590.7h2.10v-5.5h-2.10zM120.20,590.7h2.10v-1.0h-2.10zM126.45,590.7h2.10v-2.0h-2.10zM128.95,590.7h2.10v-2.0h-2.10zM137.70,590.7h2.10v-1.5h-2.10zM151.45,590.7h2.10v-3.0h-2.10zM161.45,590.7h2.10v-1.0h-2.10zM171.45,590.7h2.10v-1.0h-2.10zM213.45,590.7h2.10v-2.0h-2.10zM228.45,590.7h2.10v-5.0h-2.10zM400.95,590.7h2.10v-3.0h-2.10zM403.95,590.7h2.10v-4.0h-2.10zM406.15,590.7h2.10v-7.7h-2.10zM408.85,590.7h2.10v-7.0h-2.10zM411.65,590.7h2.10v-2.0h-2.10zM414.55,590.7h2.10v-1.5h-2.10zM418.35,590.7h2.10v-1.5h-2.10zM421.65,590.7h2.10v-3.0h-2.10zM424.95,590.7h2.10v-1.5h-2.10zM430.45,590.7h2.10v-2.0h-2.10zM433.85,590.7h2.10v-6.6h-2.10zM438.95,590.7h2.10v-5.5h-2.10zM441.95,590.7h2.10v-1.0h-2.10zM447.75,590.7h2.10v-4.4h-2.10zM451.55,590.7h2.10v-1.0h-2.10zM457.05,590.7h2.10v-1.0h-2.10zM460.35,590.7h2.10v-1.0h-2.10zM471.45,590.7h2.10v-2.0h-2.10zM493.55,590.7h2.10v-2.0h-2.10zM507.95,590.7h2.10v-1.5h-2.10z" fill="#000"/>
</svg></div>
</body></html>
